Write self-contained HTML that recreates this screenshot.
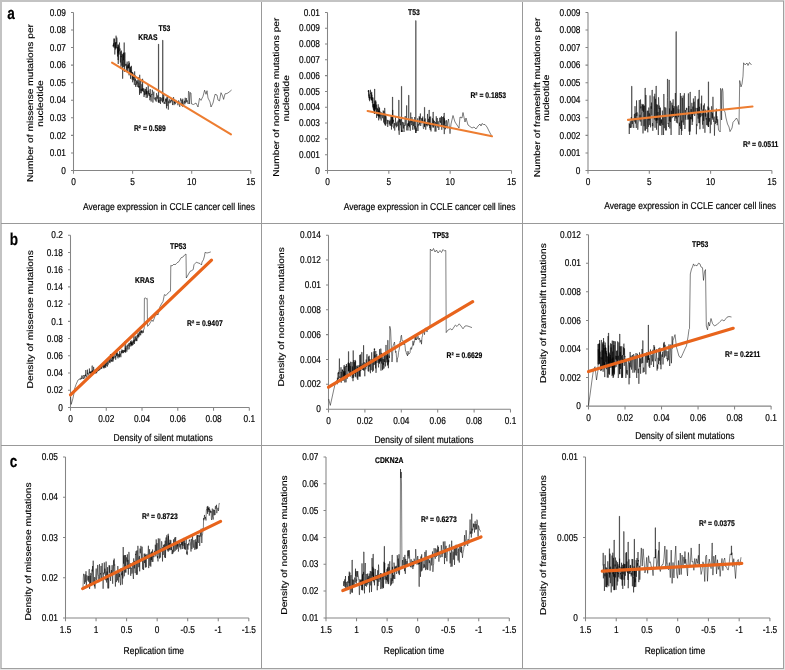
<!DOCTYPE html>
<html><head><meta charset="utf-8"><style>
html,body{margin:0;padding:0;background:#fff;width:785px;height:670px;overflow:hidden}
svg{display:block;font-family:"Liberation Sans", sans-serif;will-change:transform;text-rendering:geometricPrecision}
text{stroke:#000;stroke-width:0.18px}
</style></head><body>
<svg width="785" height="670" viewBox="0 0 785 670">

<rect x="0" y="0" width="785" height="670" fill="#fff"/>
<path d="M0,1 H784 M1,0 V669" stroke="#c3c3c3" stroke-width="2" fill="none"/>
<path d="M783.5,1 V669 M1,668.5 H784" stroke="#a0a0a0" stroke-width="1" fill="none"/>
<path d="M784.5,0 V670 M0,669.5 H785" stroke="#e6e6e6" stroke-width="1" fill="none"/>
<path d="M261.5,2 V668 M522.5,2 V668 M1,223.5 H783 M1,445.5 H783" stroke="#999" stroke-width="1" fill="none"/>

<path d="M73.50,12.40 V170.50 H250.80" fill="none" stroke="#858585" stroke-width="1.05"/>
<text transform="translate(65.90,173.65) scale(0.83,1)" font-size="10.0" text-anchor="end" fill="#000">0</text>
<text transform="translate(65.90,156.08) scale(0.83,1)" font-size="10.0" text-anchor="end" fill="#000">0.01</text>
<text transform="translate(65.90,138.52) scale(0.83,1)" font-size="10.0" text-anchor="end" fill="#000">0.02</text>
<text transform="translate(65.90,120.95) scale(0.83,1)" font-size="10.0" text-anchor="end" fill="#000">0.03</text>
<text transform="translate(65.90,103.38) scale(0.83,1)" font-size="10.0" text-anchor="end" fill="#000">0.04</text>
<text transform="translate(65.90,85.82) scale(0.83,1)" font-size="10.0" text-anchor="end" fill="#000">0.05</text>
<text transform="translate(65.90,68.25) scale(0.83,1)" font-size="10.0" text-anchor="end" fill="#000">0.06</text>
<text transform="translate(65.90,50.68) scale(0.83,1)" font-size="10.0" text-anchor="end" fill="#000">0.07</text>
<text transform="translate(65.90,33.12) scale(0.83,1)" font-size="10.0" text-anchor="end" fill="#000">0.08</text>
<text transform="translate(65.90,15.55) scale(0.83,1)" font-size="10.0" text-anchor="end" fill="#000">0.09</text>
<text transform="translate(73.50,185.20) scale(0.83,1)" font-size="10.0" text-anchor="middle" fill="#000">0</text>
<text transform="translate(132.60,185.20) scale(0.83,1)" font-size="10.0" text-anchor="middle" fill="#000">5</text>
<text transform="translate(191.70,185.20) scale(0.83,1)" font-size="10.0" text-anchor="middle" fill="#000">10</text>
<text transform="translate(250.80,185.20) scale(0.83,1)" font-size="10.0" text-anchor="middle" fill="#000">15</text>
<path d="M71.00,170.50 H73.50 M71.00,152.93 H73.50 M71.00,135.37 H73.50 M71.00,117.80 H73.50 M71.00,100.23 H73.50 M71.00,82.67 H73.50 M71.00,65.10 H73.50 M71.00,47.53 H73.50 M71.00,29.97 H73.50 M71.00,12.40 H73.50 M73.50,170.50 V173.80 M132.60,170.50 V173.80 M191.70,170.50 V173.80 M250.80,170.50 V173.80" fill="none" stroke="#858585" stroke-width="1.05"/>
<text transform="translate(33.20,103.00) scale(0.84,1) rotate(-90)" font-size="10.2" text-anchor="middle" fill="#000">Number of missense mutations per</text>
<text transform="translate(42.70,103.50) scale(0.84,1) rotate(-90)" font-size="10.2" text-anchor="middle" fill="#000">nucleotide</text>
<text transform="translate(169.00,209.50) scale(0.85,1)" font-size="10.0" text-anchor="middle" fill="#000">Average expression in CCLE cancer cell lines</text>
<polyline points="113.00,46.62 113.18,44.83 113.36,46.31 113.54,43.34 113.72,46.39 113.90,38.50 114.08,47.80 114.26,41.14 114.44,38.73 114.62,44.34 114.80,54.51 114.99,50.17 115.17,42.40 115.35,49.53 115.53,42.43 115.71,45.48 115.89,48.02 116.07,35.67 116.25,48.40 116.43,42.30 116.61,43.34 116.79,37.52 116.97,39.04 117.15,42.17 117.33,51.10 117.51,56.51 117.69,47.06 117.87,53.34 118.00,44.66 118.00,60.00 118.30,60.00 118.30,44.66 118.23,63.99 118.41,50.70 118.60,52.37 118.78,46.50 118.96,51.91 119.14,54.59 119.32,45.45 119.50,42.52 119.68,51.13 119.86,50.40 120.04,48.46 120.22,57.49 120.40,62.50 120.58,51.41 120.76,56.26 120.94,67.88 121.12,56.10 121.30,57.09 121.48,50.60 121.66,58.72 121.84,65.69 122.02,61.17 122.20,54.15 122.39,61.52 122.50,65.35 122.50,78.60 122.80,78.60 122.80,65.35 122.75,61.31 122.93,54.42 123.11,67.02 123.29,52.74 123.47,60.21 123.65,58.68 123.83,52.77 124.01,66.66 124.19,42.52 124.37,71.94 124.55,64.15 124.73,58.32 124.91,52.46 125.09,58.47 125.27,63.92 125.45,65.32 125.63,64.51 125.81,64.47 126.00,66.16 126.18,63.71 126.36,71.19 126.54,67.75 126.72,66.23 126.90,68.39 127.08,61.59 127.26,63.02 127.44,72.19 127.62,68.56 127.80,64.75 127.98,68.56 128.16,66.38 128.34,68.13 128.52,64.40 128.70,67.90 128.88,61.16 129.06,75.33 129.24,69.24 129.42,62.74 129.60,68.31 129.79,68.83 129.97,72.50 130.15,67.28 130.33,72.78 130.51,78.81 130.69,66.66 130.87,73.28 131.05,70.40 131.23,73.30 131.41,65.84 131.59,68.65 131.77,75.20 131.95,72.55 132.13,79.57 132.31,71.97 132.49,75.47 132.67,82.28 132.85,72.73 133.03,72.76 133.21,77.86 133.40,77.37 133.58,80.26 133.76,76.50 133.94,74.76 134.12,80.60 134.30,84.88 134.48,82.94 134.66,71.39 134.84,77.80 135.02,75.26 135.20,81.14 135.38,78.74 135.56,86.79 135.74,84.08 135.92,84.70 136.10,81.61 136.28,81.17 136.46,81.11 136.64,84.40 136.82,83.18 137.00,79.95 137.19,86.96 137.37,83.64 137.55,83.74 137.73,81.50 137.91,82.82 138.09,82.15 138.27,77.23 138.45,87.32 138.63,85.82 138.81,82.72 138.99,87.62 139.17,86.09 139.35,86.59 139.53,94.87 139.71,74.78 139.89,87.21 140.07,91.83 140.25,93.25 140.43,92.70 140.61,83.05 140.80,80.93 140.98,90.64 141.16,89.03 141.34,93.28 141.52,90.37 141.70,90.13 141.88,84.23 142.06,91.12 142.24,88.29 142.42,91.23 142.60,78.77 142.78,89.64 142.96,90.08 143.14,89.32 143.32,91.84 143.50,91.58 143.68,88.08 143.86,88.79 144.04,97.04 144.22,91.30 144.40,95.14 144.59,93.17 144.77,89.72 144.95,89.23 145.13,92.04 145.31,93.10 145.49,94.48 145.67,88.87 145.85,90.25 146.03,92.90 146.21,97.95 146.39,87.10 146.57,94.11 146.75,90.78 146.93,94.55 147.11,91.25 147.29,93.67 147.47,97.63 147.65,94.99 147.83,95.29 148.01,94.31 148.20,84.51 148.38,94.43 148.56,93.68 148.74,90.43 148.92,93.82 149.10,93.66 149.28,96.02 149.46,93.85 149.64,93.03 149.82,100.22 150.00,98.57 150.20,89.05 150.50,97.14 150.80,95.32 151.10,101.57 151.41,95.00 151.71,93.93 152.01,95.11 152.31,89.76 152.61,92.35 152.91,102.55 153.22,96.38 153.52,95.22 153.82,91.64 154.12,98.83 154.42,98.90 154.72,99.33 155.03,97.68 155.33,100.46 155.63,100.35 155.93,97.12 156.23,101.69 156.53,93.23 156.84,94.84 157.14,98.17 157.44,98.66 157.74,95.39 158.04,100.28 158.40,102.44 158.40,44.10 158.70,44.10 158.70,102.44 158.65,101.54 158.95,100.09 159.25,102.90 159.55,101.49 159.85,97.09 160.15,99.32 160.46,103.93 160.76,97.18 161.06,100.93 161.36,99.44 161.66,98.23 161.96,99.03 162.27,102.06 162.60,102.04 162.60,40.20 162.90,40.20 162.90,102.04 162.87,102.50 163.17,97.19 163.47,100.70 163.77,93.43 164.08,103.87 164.38,101.92 164.68,102.57 164.98,103.96 165.28,103.01 165.58,98.66 165.89,101.68 166.19,98.85 166.49,108.36 166.79,97.28 167.09,106.00 167.39,99.02 167.70,95.63 168.00,101.27 168.30,109.67 168.60,101.42 168.90,102.79 169.20,99.74 169.50,99.33 169.81,103.34 170.11,102.56 170.41,100.39 170.71,102.49 171.01,102.33 171.31,99.10 171.62,100.97 171.92,101.30 172.22,99.41 172.52,105.07 172.82,101.44 173.12,100.47 173.43,97.08 173.73,97.77 174.03,105.14 174.33,99.22 174.63,103.32 174.93,101.66 175.24,103.85 175.54,104.20 175.84,99.81 176.14,100.73 176.44,102.12 176.74,102.50 177.05,101.30 177.35,101.42 177.65,103.53 177.95,105.26 178.25,103.47 178.55,100.44 178.86,102.55 179.16,102.40 179.46,103.47 179.76,106.87 180.06,101.04 180.36,100.53 180.67,98.31 180.97,100.58 181.27,99.68 181.57,105.72 181.87,102.36 182.17,100.23 182.48,106.65 182.78,98.74 183.08,104.23 183.38,104.89 183.68,104.68 183.98,101.89 184.29,102.26 184.59,100.72 184.89,104.32 185.19,97.74 185.49,101.74 185.79,102.91 186.10,100.47 186.40,98.09 186.70,101.97 187.00,100.20 188.20,104.00 188.50,91.20 189.20,92.00 189.60,104.00 190.30,92.50 191.00,93.00 191.60,104.00 193.60,104.50 196.00,103.00 198.00,107.00 199.50,98.30 201.00,100.40 203.00,96.30 204.60,90.20 206.00,94.30 207.00,90.70 208.00,98.00 210.00,101.90 211.00,107.00 213.00,103.00 215.00,94.30 217.00,95.00 218.00,100.00 219.50,100.90 221.00,92.70 222.60,96.00 223.60,99.40 225.00,93.80 227.00,93.50 229.00,92.20 231.60,90.00" fill="none" stroke="#000" stroke-width="0.5" stroke-linejoin="miter" stroke-opacity="1"/>
<line x1="112" y1="62.7" x2="231" y2="134.3" stroke="#ED7D31" stroke-width="2.1" stroke-linecap="round"/>
<text transform="translate(138.30,40.00) scale(0.83,1)" font-size="8.2" text-anchor="start" font-weight="bold" fill="#000">KRAS</text>
<text transform="translate(158.50,30.60) scale(0.83,1)" font-size="8.2" text-anchor="start" font-weight="bold" fill="#000">T53</text>
<text transform="translate(133.90,131.40) scale(0.83,1)" font-size="8.2" text-anchor="start" font-weight="bold" fill="#000">R² = 0.589</text>
<path d="M327.50,12.40 V170.50 H511.50" fill="none" stroke="#858585" stroke-width="1.05"/>
<text transform="translate(319.90,173.65) scale(0.83,1)" font-size="10.0" text-anchor="end" fill="#000">0</text>
<text transform="translate(319.90,157.84) scale(0.83,1)" font-size="10.0" text-anchor="end" fill="#000">0.001</text>
<text transform="translate(319.90,142.03) scale(0.83,1)" font-size="10.0" text-anchor="end" fill="#000">0.002</text>
<text transform="translate(319.90,126.22) scale(0.83,1)" font-size="10.0" text-anchor="end" fill="#000">0.003</text>
<text transform="translate(319.90,110.41) scale(0.83,1)" font-size="10.0" text-anchor="end" fill="#000">0.004</text>
<text transform="translate(319.90,94.60) scale(0.83,1)" font-size="10.0" text-anchor="end" fill="#000">0.005</text>
<text transform="translate(319.90,78.79) scale(0.83,1)" font-size="10.0" text-anchor="end" fill="#000">0.006</text>
<text transform="translate(319.90,62.98) scale(0.83,1)" font-size="10.0" text-anchor="end" fill="#000">0.007</text>
<text transform="translate(319.90,47.17) scale(0.83,1)" font-size="10.0" text-anchor="end" fill="#000">0.008</text>
<text transform="translate(319.90,31.36) scale(0.83,1)" font-size="10.0" text-anchor="end" fill="#000">0.009</text>
<text transform="translate(319.90,15.55) scale(0.83,1)" font-size="10.0" text-anchor="end" fill="#000">0.01</text>
<text transform="translate(327.50,185.20) scale(0.83,1)" font-size="10.0" text-anchor="middle" fill="#000">0</text>
<text transform="translate(388.83,185.20) scale(0.83,1)" font-size="10.0" text-anchor="middle" fill="#000">5</text>
<text transform="translate(450.17,185.20) scale(0.83,1)" font-size="10.0" text-anchor="middle" fill="#000">10</text>
<text transform="translate(511.50,185.20) scale(0.83,1)" font-size="10.0" text-anchor="middle" fill="#000">15</text>
<path d="M325.00,170.50 H327.50 M325.00,154.69 H327.50 M325.00,138.88 H327.50 M325.00,123.07 H327.50 M325.00,107.26 H327.50 M325.00,91.45 H327.50 M325.00,75.64 H327.50 M325.00,59.83 H327.50 M325.00,44.02 H327.50 M325.00,28.21 H327.50 M325.00,12.40 H327.50 M327.50,170.50 V173.80 M388.83,170.50 V173.80 M450.17,170.50 V173.80 M511.50,170.50 V173.80" fill="none" stroke="#858585" stroke-width="1.05"/>
<text transform="translate(279.20,97.20) scale(0.84,1) rotate(-90)" font-size="10.2" text-anchor="middle" fill="#000">Number of nonsense mutations per</text>
<text transform="translate(288.50,98.30) scale(0.84,1) rotate(-90)" font-size="10.2" text-anchor="middle" fill="#000">nucleotide</text>
<text transform="translate(429.60,209.50) scale(0.85,1)" font-size="10.0" text-anchor="middle" fill="#000">Average expression in CCLE cancer cell lines</text>
<polyline points="368.20,90.68 368.32,91.98 368.44,90.12 368.56,92.02 368.68,96.51 368.80,90.13 368.92,96.19 369.04,97.96 369.16,96.67 369.28,99.73 369.40,94.37 369.52,98.18 369.64,101.21 369.77,97.29 369.89,97.33 370.01,97.03 370.13,98.49 370.25,92.67 370.37,93.82 370.49,89.78 370.61,91.74 370.73,91.34 370.85,92.02 370.97,95.22 371.09,99.79 371.21,95.23 371.33,93.35 371.45,100.07 371.57,99.14 371.69,92.00 371.81,100.55 371.93,94.82 372.05,97.85 372.17,98.43 372.29,103.16 372.41,97.34 372.53,99.48 372.66,101.13 372.78,105.10 372.90,106.88 373.02,97.57 373.14,108.33 373.26,103.88 373.38,109.55 373.50,110.27 373.62,104.20 373.74,107.24 373.86,106.79 373.98,111.03 374.10,113.20 374.22,108.99 374.34,105.31 374.50,113.92 374.50,89.00 374.80,89.00 374.80,113.92 374.58,103.86 374.70,106.66 374.82,106.47 374.94,101.17 375.06,109.35 375.18,110.12 375.30,106.95 375.42,107.03 375.54,106.15 375.67,100.33 375.79,108.98 375.91,101.63 376.03,103.16 376.15,109.82 376.27,112.41 376.39,104.63 376.51,115.99 376.63,117.94 376.75,112.93 376.87,111.96 376.99,113.58 377.11,110.75 377.23,107.92 377.35,115.26 377.47,115.71 377.59,108.82 377.71,110.15 377.83,109.64 377.95,109.51 378.07,107.66 378.19,104.29 378.31,116.42 378.43,110.68 378.56,111.05 378.68,120.36 378.80,109.59 378.92,115.58 379.04,106.84 379.16,111.34 379.28,117.48 379.40,113.28 379.52,108.04 379.64,108.56 379.76,115.64 379.88,111.08 380.00,118.68 380.20,116.94 380.45,114.48 380.70,112.37 380.95,117.55 381.20,120.51 381.45,112.57 381.70,114.31 381.95,115.98 382.20,115.95 382.45,118.24 382.70,112.99 382.95,115.23 383.20,110.50 383.45,116.70 383.70,122.54 383.95,111.13 384.20,117.15 384.45,124.19 384.70,107.92 384.95,111.96 385.20,125.35 385.45,113.86 385.70,125.56 385.95,116.92 386.20,116.33 386.45,120.23 386.70,120.02 386.96,123.76 387.21,122.61 387.46,119.86 387.71,126.96 387.96,123.52 388.21,120.86 388.46,121.13 388.71,120.41 388.96,120.38 389.21,124.28 389.46,122.94 389.71,121.11 389.96,125.66 390.21,119.65 390.46,123.87 390.71,125.70 390.96,116.49 391.21,119.97 391.46,129.54 391.71,115.86 391.96,126.68 392.21,116.11 392.40,123.51 392.40,97.00 392.70,97.00 392.70,123.51 392.71,109.93 392.96,119.61 393.21,121.65 393.46,119.76 393.71,128.29 393.96,126.20 394.21,126.18 394.46,123.06 394.71,130.59 394.96,127.15 395.21,123.52 395.46,117.08 395.71,125.55 395.96,125.30 396.21,123.26 396.46,127.11 396.71,127.29 396.96,121.84 397.21,126.20 397.46,124.80 397.71,124.39 397.96,120.52 398.21,120.64 398.46,123.70 398.70,130.53 398.70,100.10 399.00,100.10 399.00,130.53 398.96,131.79 399.21,134.79 399.46,119.08 399.71,122.31 399.96,119.27 400.21,121.58 400.47,125.25 400.72,119.37 400.97,127.78 401.22,128.89 401.40,132.00 401.40,86.30 401.70,86.30 401.70,132.00 401.72,132.00 401.97,130.21 402.22,132.00 402.47,121.90 402.72,124.60 402.97,124.87 403.22,125.96 403.47,128.43 403.72,122.39 403.97,132.00 404.22,129.64 404.47,125.18 404.72,125.78 404.97,119.46 405.22,116.04 405.47,122.70 405.72,124.92 405.97,125.61 406.22,118.38 406.50,119.90 406.50,105.50 406.80,105.50 406.80,119.90 406.72,130.40 406.97,126.31 407.22,126.71 407.47,123.50 407.72,128.57 407.97,130.49 408.22,128.51 408.47,122.86 408.60,125.91 408.60,95.20 408.90,95.20 408.90,125.91 408.97,120.43 409.22,123.88 409.47,127.31 409.72,121.48 409.97,123.05 410.22,130.81 410.47,123.03 410.72,112.56 410.97,122.61 411.22,119.70 411.47,125.15 411.72,123.66 411.97,117.00 412.22,118.75 412.47,121.44 412.72,129.77 412.97,120.28 413.22,122.54 413.47,125.94 413.72,124.02 413.98,121.43 414.23,129.55 414.48,128.00 414.73,117.00 414.98,127.48 415.23,126.06 415.48,128.42 415.70,132.96 415.70,20.60 416.00,20.60 416.00,132.96 415.98,127.78 416.23,131.00 416.48,131.00 416.73,131.00 416.98,127.76 417.23,126.82 417.48,126.92 417.73,118.32 417.98,131.00 418.23,124.28 418.48,124.71 418.73,124.54 418.98,125.70 419.23,116.15 419.48,124.52 419.73,117.32 419.98,119.21 420.20,116.05 420.20,113.60 420.50,113.60 420.50,116.05 420.48,116.10 420.73,126.02 420.98,120.82 421.23,123.20 421.48,123.18 421.73,118.31 421.98,120.58 422.23,117.97 422.48,122.09 422.73,116.55 422.98,121.53 423.23,127.37 423.48,128.83 423.73,128.68 423.98,126.42 424.23,119.86 424.40,126.76 424.40,107.30 424.70,107.30 424.70,126.76 424.73,125.05 424.98,124.29 425.23,118.46 425.48,125.23 425.73,129.69 425.98,126.77 426.23,122.71 426.48,125.27 426.73,123.72 426.98,124.21 427.23,126.33 427.49,113.93 427.74,122.84 427.99,125.16 428.24,120.59 428.49,118.83 428.74,124.94 429.00,120.80 429.00,110.00 429.30,110.00 429.30,120.80 429.24,125.87 429.49,116.70 429.74,128.16 429.99,123.07 430.24,129.99 430.49,116.63 430.74,116.62 430.99,131.45 431.24,123.57 431.49,124.84 431.74,123.46 431.99,123.79 432.24,125.45 432.49,118.27 432.74,120.92 433.00,127.47 433.00,112.00 433.30,112.00 433.30,127.47 433.24,123.23 433.49,119.79 433.74,121.60 433.99,126.16 434.24,121.06 434.49,121.06 434.74,124.11 434.99,131.54 435.24,128.72 435.49,122.16 435.74,124.01 435.99,131.60 436.24,116.25 436.49,122.79 436.74,124.35 436.99,122.01 437.24,118.03 437.49,124.24 437.74,127.69 437.99,121.89 438.24,121.22 438.49,123.23 438.74,130.00 438.99,129.14 439.24,124.86 439.49,119.30 439.74,117.79 439.99,121.58 440.24,120.90 440.49,122.92 440.74,117.48 441.00,121.79 441.25,124.93 441.50,116.20 441.75,129.77 442.00,125.10 442.25,124.87 442.50,117.11 442.75,118.03 443.00,126.82 443.25,126.33 443.50,116.47 443.75,128.20 444.00,126.85 444.00,113.00 444.30,113.00 444.30,126.85 444.25,134.11 444.50,118.32 444.75,123.73 445.00,120.53 445.25,125.63 445.50,129.27 445.75,125.22 446.00,126.89 446.25,122.44 446.50,120.27 446.75,123.42 447.00,127.10 447.25,128.29 447.50,123.09 448.50,119.00 450.00,133.70 451.00,124.00 453.00,115.50 455.00,122.00 457.00,125.00 459.00,128.00 460.00,117.00 462.00,118.00 463.00,112.50 465.00,122.00 466.00,118.00 468.00,125.00 470.00,126.50 472.00,128.00 474.00,127.00 476.00,129.00 478.00,126.00 480.00,124.00 481.00,126.00 482.00,123.50 483.50,124.50 485.00,124.50 487.00,127.00 490.00,133.00 491.50,135.50" fill="none" stroke="#000" stroke-width="0.5" stroke-linejoin="miter" stroke-opacity="1"/>
<line x1="367.6" y1="111" x2="492" y2="136.3" stroke="#ED7D31" stroke-width="2.1" stroke-linecap="round"/>
<text transform="translate(408.00,15.00) scale(0.83,1)" font-size="8.2" text-anchor="start" font-weight="bold" fill="#000">T53</text>
<text transform="translate(470.40,98.00) scale(0.83,1)" font-size="8.2" text-anchor="start" font-weight="bold" fill="#000">R² = 0.1853</text>
<path d="M588.00,12.40 V170.50 H771.90" fill="none" stroke="#858585" stroke-width="1.05"/>
<text transform="translate(580.40,173.65) scale(0.83,1)" font-size="10.0" text-anchor="end" fill="#000">0</text>
<text transform="translate(580.40,156.08) scale(0.83,1)" font-size="10.0" text-anchor="end" fill="#000">0.001</text>
<text transform="translate(580.40,138.52) scale(0.83,1)" font-size="10.0" text-anchor="end" fill="#000">0.002</text>
<text transform="translate(580.40,120.95) scale(0.83,1)" font-size="10.0" text-anchor="end" fill="#000">0.003</text>
<text transform="translate(580.40,103.38) scale(0.83,1)" font-size="10.0" text-anchor="end" fill="#000">0.004</text>
<text transform="translate(580.40,85.82) scale(0.83,1)" font-size="10.0" text-anchor="end" fill="#000">0.005</text>
<text transform="translate(580.40,68.25) scale(0.83,1)" font-size="10.0" text-anchor="end" fill="#000">0.006</text>
<text transform="translate(580.40,50.68) scale(0.83,1)" font-size="10.0" text-anchor="end" fill="#000">0.007</text>
<text transform="translate(580.40,33.12) scale(0.83,1)" font-size="10.0" text-anchor="end" fill="#000">0.008</text>
<text transform="translate(580.40,15.55) scale(0.83,1)" font-size="10.0" text-anchor="end" fill="#000">0.009</text>
<text transform="translate(588.00,185.20) scale(0.83,1)" font-size="10.0" text-anchor="middle" fill="#000">0</text>
<text transform="translate(649.30,185.20) scale(0.83,1)" font-size="10.0" text-anchor="middle" fill="#000">5</text>
<text transform="translate(710.60,185.20) scale(0.83,1)" font-size="10.0" text-anchor="middle" fill="#000">10</text>
<text transform="translate(771.90,185.20) scale(0.83,1)" font-size="10.0" text-anchor="middle" fill="#000">15</text>
<path d="M585.50,170.50 H588.00 M585.50,152.93 H588.00 M585.50,135.37 H588.00 M585.50,117.80 H588.00 M585.50,100.23 H588.00 M585.50,82.67 H588.00 M585.50,65.10 H588.00 M585.50,47.53 H588.00 M585.50,29.97 H588.00 M585.50,12.40 H588.00 M588.00,170.50 V173.80 M649.30,170.50 V173.80 M710.60,170.50 V173.80 M771.90,170.50 V173.80" fill="none" stroke="#858585" stroke-width="1.05"/>
<text transform="translate(540.10,97.50) scale(0.84,1) rotate(-90)" font-size="10.2" text-anchor="middle" fill="#000">Number of frameshift mutations per</text>
<text transform="translate(549.20,97.90) scale(0.84,1) rotate(-90)" font-size="10.2" text-anchor="middle" fill="#000">nucleotide</text>
<text transform="translate(690.20,209.40) scale(0.85,1)" font-size="10.0" text-anchor="middle" fill="#000">Average expression in CCLE cancer cell lines</text>
<polyline points="629.00,123.17 629.25,134.02 629.50,123.72 629.75,126.22 630.00,127.85 630.25,121.28 630.50,127.88 630.75,125.54 631.00,123.94 631.26,117.06 631.60,119.68 631.60,86.20 631.90,86.20 631.90,119.68 631.76,127.66 632.01,120.91 632.26,123.93 632.51,123.82 632.76,120.83 633.01,119.90 633.26,123.10 633.51,124.65 633.76,127.99 634.01,121.77 634.26,114.60 634.51,113.90 634.76,121.72 635.01,106.20 635.26,112.49 635.51,123.49 635.77,113.76 636.02,112.83 636.27,127.97 636.52,100.43 636.77,116.06 637.02,112.35 637.27,112.69 637.52,125.19 637.77,129.73 638.02,127.33 638.27,122.98 638.52,121.79 638.77,113.49 639.02,113.23 639.27,100.06 639.52,111.00 639.77,120.34 640.02,114.76 640.28,121.64 640.53,99.50 640.78,108.37 641.03,106.44 641.28,125.73 641.53,112.84 641.78,112.97 642.03,103.87 642.28,110.64 642.53,104.87 642.78,109.40 643.03,133.45 643.28,104.19 643.53,111.75 643.78,105.56 644.03,126.21 644.28,105.67 644.54,107.02 644.79,117.81 645.00,130.58 645.00,88.00 645.30,88.00 645.30,130.58 645.29,116.55 645.54,110.62 645.79,95.13 646.04,95.09 646.29,117.26 646.54,119.71 646.79,129.06 647.04,119.55 647.29,110.76 647.54,125.37 647.79,132.30 648.04,110.71 648.29,125.49 648.54,126.81 648.79,107.55 649.05,120.38 649.30,113.36 649.55,124.70 649.80,125.16 650.05,95.44 650.30,113.53 650.55,127.39 650.80,120.26 651.05,106.28 651.30,108.77 651.55,102.54 651.80,115.46 652.00,102.11 652.00,90.00 652.30,90.00 652.30,102.11 652.30,126.16 652.55,123.01 652.80,130.83 653.05,125.85 653.30,126.12 653.56,123.66 653.81,118.20 654.06,96.40 654.31,119.48 654.56,107.16 654.81,93.78 655.06,127.80 655.31,111.58 655.56,98.83 655.81,118.64 656.00,120.62 656.00,86.00 656.30,86.00 656.30,120.62 656.31,117.86 656.56,129.70 656.81,104.23 657.06,123.24 657.31,104.85 657.56,117.99 657.81,120.32 658.07,111.96 658.32,135.00 658.57,97.25 658.82,101.20 659.07,108.85 659.32,105.59 659.57,125.18 659.82,108.10 660.07,126.01 660.32,107.53 660.57,122.80 660.82,125.59 661.07,119.73 661.32,123.35 661.57,119.36 661.82,135.00 662.07,135.00 662.33,110.59 662.58,119.48 662.83,125.09 663.08,117.23 663.33,129.96 663.58,135.00 663.83,93.98 664.08,107.85 664.33,128.21 664.58,120.22 664.83,107.06 665.08,111.70 665.33,118.33 665.58,130.34 665.83,107.74 666.08,119.87 666.33,130.43 666.58,125.12 666.84,115.42 667.09,113.44 667.40,97.57 667.40,79.00 667.70,79.00 667.70,97.57 667.59,100.64 667.84,107.73 668.09,123.92 668.34,123.15 668.59,126.97 668.84,123.37 669.00,121.30 669.00,80.00 669.30,80.00 669.30,121.30 669.34,116.45 669.59,108.41 669.84,128.51 670.09,113.82 670.34,100.81 670.59,121.98 670.84,116.36 671.09,135.00 671.35,110.71 671.60,116.06 671.85,102.65 672.10,118.20 672.35,117.19 672.60,105.30 672.85,113.83 673.10,99.31 673.35,117.09 673.60,108.14 673.85,116.41 674.10,106.09 674.35,106.91 674.60,112.90 674.85,120.97 675.10,115.34 675.35,93.00 675.61,117.24 675.86,112.81 676.00,118.62 676.00,31.60 676.30,31.60 676.30,118.62 676.36,122.71 676.61,119.37 676.86,106.36 677.11,108.10 677.36,116.84 677.61,123.32 677.86,108.95 678.11,108.94 678.36,105.21 678.61,117.17 678.86,109.34 679.11,135.00 679.36,122.66 679.61,126.00 679.86,118.99 680.12,107.79 680.37,93.02 680.62,128.87 680.87,117.32 681.12,95.88 681.37,135.00 681.62,120.58 681.87,130.92 682.12,114.69 682.37,97.85 682.62,108.01 682.87,122.44 683.12,95.52 683.37,110.08 683.62,124.58 683.87,124.94 684.12,114.94 684.37,93.22 684.63,113.14 684.88,129.03 685.13,124.90 685.38,109.94 685.63,118.49 685.88,119.72 686.13,111.91 686.38,107.81 686.63,109.84 686.88,108.29 687.13,114.77 687.38,115.02 687.63,118.16 687.88,119.65 688.13,113.01 688.38,93.42 688.63,119.30 688.89,106.05 689.14,131.48 689.39,111.71 689.64,135.00 690.00,122.23 690.00,92.00 690.30,92.00 690.30,122.23 690.14,131.49 690.39,116.92 690.64,119.07 690.89,109.49 691.14,110.23 691.39,109.41 691.64,119.31 691.89,102.81 692.14,125.00 692.39,112.17 692.64,121.67 692.89,106.59 693.14,114.55 693.40,98.50 693.65,108.33 693.90,113.46 694.15,101.71 694.40,111.46 694.65,116.02 694.90,114.76 695.15,96.06 695.40,111.88 695.65,112.84 695.90,107.83 696.15,108.01 696.40,134.27 696.65,124.29 696.90,125.54 697.15,125.75 697.40,107.90 697.65,114.42 697.91,99.51 698.16,118.63 698.41,98.72 698.66,108.29 699.00,123.14 699.00,90.00 699.30,90.00 699.30,123.14 699.16,120.65 699.41,106.82 699.66,108.28 699.91,129.26 700.16,122.68 700.41,112.44 700.66,117.15 700.91,115.41 701.16,103.51 701.41,109.53 701.66,95.65 701.91,115.74 702.16,113.75 702.42,122.34 702.67,124.72 702.92,109.47 703.17,128.73 703.42,105.39 703.67,120.94 703.92,110.09 704.17,107.20 704.42,103.47 704.67,111.30 704.92,132.77 705.17,113.02 705.42,116.57 705.67,109.51 705.92,118.36 706.17,119.54 706.42,118.17 706.68,125.10 706.93,113.47 707.18,116.18 707.43,125.49 707.68,117.13 707.93,106.46 708.30,126.95 708.30,81.80 708.60,81.80 708.60,126.95 708.43,120.46 708.68,109.83 708.93,107.67 709.18,110.15 709.43,121.62 709.68,118.07 709.93,124.39 710.18,133.25 710.43,131.11 710.68,117.94 710.93,110.80 711.19,124.66 711.44,106.39 711.69,106.35 711.94,113.29 712.19,118.02 712.44,113.20 712.69,119.61 712.94,96.82 713.19,112.79 713.44,117.65 713.69,121.88 713.94,120.75 714.19,116.65 714.44,135.68 714.69,126.16 714.94,122.85 715.19,120.61 715.44,123.81 715.70,113.97 715.95,111.03 716.20,120.10 716.45,108.61 716.70,122.95 716.95,116.26 717.20,125.23 717.45,122.87 717.70,119.28 718.50,130.00 720.20,132.00 720.60,88.30 721.20,91.00 721.60,120.00 722.00,90.00 722.50,88.50 723.00,92.00 723.40,109.60 725.00,112.00 726.00,118.00 727.50,124.00 729.00,127.00 730.00,131.60 732.00,128.00 733.00,122.30 735.00,120.00 736.50,118.00 738.00,121.00 739.00,124.50 739.70,80.50 741.00,86.90 742.00,84.00 743.00,76.20 743.60,62.80 745.00,64.90 747.00,63.00 748.00,65.50 749.50,62.50 751.50,65.00" fill="none" stroke="#000" stroke-width="0.5" stroke-linejoin="miter" stroke-opacity="1"/>
<line x1="628" y1="119.9" x2="752.5" y2="106.5" stroke="#ED7D31" stroke-width="2.1" stroke-linecap="round"/>
<text transform="translate(743.00,146.80) scale(0.83,1)" font-size="8.2" text-anchor="start" font-weight="bold" fill="#000">R² = 0.0511</text>
<path d="M70.50,235.20 V407.50 H249.30" fill="none" stroke="#858585" stroke-width="1.05"/>
<text transform="translate(62.90,410.65) scale(0.83,1)" font-size="10.0" text-anchor="end" fill="#000">0</text>
<text transform="translate(62.90,393.42) scale(0.83,1)" font-size="10.0" text-anchor="end" fill="#000">0.02</text>
<text transform="translate(62.90,376.19) scale(0.83,1)" font-size="10.0" text-anchor="end" fill="#000">0.04</text>
<text transform="translate(62.90,358.96) scale(0.83,1)" font-size="10.0" text-anchor="end" fill="#000">0.06</text>
<text transform="translate(62.90,341.73) scale(0.83,1)" font-size="10.0" text-anchor="end" fill="#000">0.08</text>
<text transform="translate(62.90,324.50) scale(0.83,1)" font-size="10.0" text-anchor="end" fill="#000">0.1</text>
<text transform="translate(62.90,307.27) scale(0.83,1)" font-size="10.0" text-anchor="end" fill="#000">0.12</text>
<text transform="translate(62.90,290.04) scale(0.83,1)" font-size="10.0" text-anchor="end" fill="#000">0.14</text>
<text transform="translate(62.90,272.81) scale(0.83,1)" font-size="10.0" text-anchor="end" fill="#000">0.16</text>
<text transform="translate(62.90,255.58) scale(0.83,1)" font-size="10.0" text-anchor="end" fill="#000">0.18</text>
<text transform="translate(62.90,238.35) scale(0.83,1)" font-size="10.0" text-anchor="end" fill="#000">0.2</text>
<text transform="translate(70.50,422.20) scale(0.83,1)" font-size="10.0" text-anchor="middle" fill="#000">0</text>
<text transform="translate(106.26,422.20) scale(0.83,1)" font-size="10.0" text-anchor="middle" fill="#000">0.02</text>
<text transform="translate(142.02,422.20) scale(0.83,1)" font-size="10.0" text-anchor="middle" fill="#000">0.04</text>
<text transform="translate(177.78,422.20) scale(0.83,1)" font-size="10.0" text-anchor="middle" fill="#000">0.06</text>
<text transform="translate(213.54,422.20) scale(0.83,1)" font-size="10.0" text-anchor="middle" fill="#000">0.08</text>
<text transform="translate(249.30,422.20) scale(0.83,1)" font-size="10.0" text-anchor="middle" fill="#000">0.1</text>
<path d="M68.00,407.50 H70.50 M68.00,390.27 H70.50 M68.00,373.04 H70.50 M68.00,355.81 H70.50 M68.00,338.58 H70.50 M68.00,321.35 H70.50 M68.00,304.12 H70.50 M68.00,286.89 H70.50 M68.00,269.66 H70.50 M68.00,252.43 H70.50 M68.00,235.20 H70.50 M70.50,407.50 V410.80 M106.26,407.50 V410.80 M142.02,407.50 V410.80 M177.78,407.50 V410.80 M213.54,407.50 V410.80 M249.30,407.50 V410.80" fill="none" stroke="#858585" stroke-width="1.05"/>
<text transform="translate(33.10,319.30) scale(0.84,1) rotate(-90)" font-size="10.2" text-anchor="middle" fill="#000">Density of missense mutations</text>
<text transform="translate(163.20,440.60) scale(0.85,1)" font-size="10.0" text-anchor="middle" fill="#000">Density of silent mutations</text>
<polyline points="70.60,397.00 71.20,404.40 72.20,401.00 72.80,398.90 73.80,394.20 74.50,389.00 76.00,384.60 78.00,380.00 80.00,378.80 80.00,379.30 80.20,378.85 80.40,378.71 80.60,379.47 80.80,379.30 81.00,377.66 81.20,377.69 81.40,379.07 81.60,377.18 81.80,375.65 82.00,376.36 82.20,375.72 82.40,377.13 82.60,377.14 82.80,378.71 83.00,377.54 83.21,377.78 83.41,378.83 83.61,377.64 83.81,375.13 84.01,376.18 84.21,375.32 84.41,375.83 84.61,377.76 84.81,378.48 85.01,377.13 85.21,376.09 85.41,374.50 85.61,376.08 85.81,370.04 86.01,374.22 86.21,375.97 86.41,376.40 86.61,376.45 86.81,377.44 87.01,375.17 87.21,375.28 87.41,369.62 87.61,373.82 87.81,372.83 88.01,374.29 88.21,374.91 88.41,375.17 88.61,375.41 88.81,373.19 89.01,372.33 89.21,372.23 89.41,368.49 89.62,373.02 89.82,371.83 90.02,374.11 90.22,371.52 90.42,372.88 90.62,372.06 90.82,373.35 91.02,373.33 91.22,370.88 91.42,372.96 91.62,375.30 91.82,372.85 92.00,370.49 92.00,365.70 92.30,365.70 92.30,370.49 92.22,375.04 92.42,370.59 92.62,373.01 92.82,370.34 93.02,373.12 93.22,371.86 93.42,372.91 93.62,366.89 93.82,369.61 94.02,369.29 94.22,370.30 94.42,372.86 94.62,371.94 94.82,373.37 95.02,373.46 95.22,373.81 95.42,369.94 95.62,369.36 95.82,369.27 96.03,372.86 96.23,370.05 96.43,371.01 96.63,373.27 96.83,369.66 97.03,368.97 97.23,368.36 97.43,371.41 97.63,371.60 97.83,369.87 98.03,368.97 98.23,369.05 98.43,369.97 98.63,371.01 98.83,367.56 99.03,367.65 99.23,370.31 99.43,370.09 99.63,368.52 99.83,368.00 100.03,369.74 100.23,368.05 100.43,365.65 100.63,365.74 100.83,368.66 101.03,367.05 101.23,367.96 101.43,364.85 101.63,368.93 101.83,367.32 102.03,366.37 102.24,366.90 102.44,366.02 102.64,366.20 102.84,363.73 103.00,364.40 103.00,364.00 103.30,364.00 103.30,364.40 103.24,368.11 103.44,365.82 103.64,364.63 103.84,366.81 104.04,368.39 104.24,365.71 104.44,367.04 104.64,363.98 104.84,362.13 105.04,367.96 105.24,363.39 105.44,365.98 105.64,366.46 105.84,367.38 106.04,363.09 106.24,365.88 106.44,362.16 106.64,360.83 106.84,360.53 107.04,363.63 107.24,360.41 107.44,366.55 107.64,364.89 107.84,364.75 108.04,363.36 108.24,364.42 108.44,361.40 108.65,360.08 108.85,360.33 109.05,362.63 109.25,361.71 109.45,362.20 109.65,358.58 109.85,362.39 110.05,363.16 110.25,361.39 110.45,354.04 110.65,359.29 110.85,360.15 111.05,361.89 111.25,360.05 111.45,361.18 111.65,357.92 111.85,358.11 112.00,357.85 112.00,356.00 112.30,356.00 112.30,357.85 112.25,361.67 112.45,355.80 112.65,358.11 112.85,355.43 113.05,361.52 113.25,359.81 113.45,356.44 113.65,359.22 113.85,358.89 114.05,356.77 114.25,357.56 114.45,356.27 114.65,355.98 114.85,353.63 115.06,354.29 115.26,357.41 115.46,356.12 115.66,359.74 115.86,358.07 116.06,356.46 116.26,352.87 116.46,354.33 116.66,355.66 116.86,351.27 117.06,356.31 117.26,352.71 117.46,357.10 117.66,357.49 117.86,357.99 118.06,358.39 118.26,353.92 118.46,355.62 118.66,356.22 118.86,357.04 119.06,354.50 119.26,357.49 119.46,357.06 119.66,351.17 119.86,356.33 120.06,355.40 120.26,353.45 120.46,353.92 120.66,355.51 120.86,357.24 121.06,355.29 121.26,350.85 121.47,352.76 121.67,353.34 121.87,349.51 122.07,353.09 122.27,351.30 122.47,351.58 122.67,350.28 122.87,353.14 123.07,350.16 123.27,349.95 123.47,352.02 123.67,353.09 123.87,350.45 124.07,350.18 124.27,352.09 124.47,351.21 124.67,350.34 124.87,351.99 125.00,351.51 125.00,341.00 125.30,341.00 125.30,351.51 125.27,348.00 125.47,347.71 125.67,352.76 125.87,347.58 126.07,345.86 126.27,347.75 126.47,348.26 126.67,349.76 126.87,351.61 127.07,347.64 127.27,344.59 127.47,345.97 127.68,348.05 127.88,349.59 128.08,346.31 128.28,344.92 128.48,345.42 128.68,343.26 128.88,343.43 129.08,349.28 129.28,348.54 129.48,343.98 129.68,342.72 129.88,346.61 130.08,346.38 130.28,345.64 130.48,341.26 130.68,344.02 130.88,342.62 131.08,346.28 131.28,340.52 131.48,345.10 131.68,342.26 131.88,345.30 132.08,342.35 132.28,345.54 132.48,342.37 132.68,341.36 132.88,341.53 133.08,344.91 133.28,340.28 133.48,342.39 133.68,343.33 133.88,335.81 134.09,341.42 134.29,340.67 134.49,343.91 134.69,339.55 134.89,341.37 135.09,337.73 135.29,336.71 135.49,340.34 135.69,340.38 135.89,340.01 136.09,335.62 136.29,341.07 136.49,338.60 136.69,338.31 136.89,341.13 137.09,338.54 137.29,337.11 137.49,334.76 137.69,336.35 137.89,338.30 138.09,332.90 138.29,336.67 138.49,334.94 138.69,334.39 138.89,337.16 139.09,334.63 139.29,331.77 139.49,333.00 139.69,335.32 139.89,335.26 140.09,330.24 140.29,331.75 140.50,333.65 140.70,335.29 140.90,333.60 141.10,331.01 141.30,333.17 141.50,330.35 141.70,332.13 141.90,331.14 142.10,332.86 142.30,333.05 142.50,333.16 142.70,331.04 142.90,330.46 143.10,330.78 143.30,332.75 143.50,330.13 144.20,328.50 144.40,298.40 145.50,297.80 146.50,299.00 147.20,298.40 147.50,326.30 149.00,325.00 150.00,323.00 152.00,320.00 153.00,321.50 155.00,316.40 157.00,314.00 158.00,315.00 160.00,306.60 162.00,303.00 163.00,301.50 164.40,294.60 166.00,295.50 168.00,293.00 169.50,292.00 170.50,291.00 170.80,265.40 172.00,266.00 174.00,264.00 175.00,265.00 177.00,262.80 179.00,261.50 181.00,257.80 183.00,257.00 184.50,255.00 186.00,254.00 186.30,278.00 188.00,275.00 190.00,271.40 191.50,270.70 193.20,269.60 194.00,264.70 196.30,262.20 198.00,262.90 200.00,263.50 201.50,265.00 202.00,262.00 203.40,259.80 204.50,256.00 205.00,252.40 207.00,253.00 209.00,252.50 210.80,251.90" fill="none" stroke="#000" stroke-width="0.5" stroke-linejoin="miter" stroke-opacity="1"/>
<line x1="70.5" y1="394.8" x2="211.5" y2="260.2" stroke="#E8641C" stroke-width="3.2" stroke-linecap="round"/>
<text transform="translate(135.00,283.00) scale(0.83,1)" font-size="8.2" text-anchor="start" font-weight="bold" fill="#000">KRAS</text>
<text transform="translate(170.00,249.00) scale(0.83,1)" font-size="8.2" text-anchor="start" font-weight="bold" fill="#000">TP53</text>
<text transform="translate(187.00,326.00) scale(0.83,1)" font-size="8.2" text-anchor="start" font-weight="bold" fill="#000">R² = 0.9407</text>
<path d="M328.50,235.20 V409.20 H510.50" fill="none" stroke="#858585" stroke-width="1.05"/>
<text transform="translate(320.90,412.35) scale(0.83,1)" font-size="10.0" text-anchor="end" fill="#000">0</text>
<text transform="translate(320.90,387.49) scale(0.83,1)" font-size="10.0" text-anchor="end" fill="#000">0.002</text>
<text transform="translate(320.90,362.64) scale(0.83,1)" font-size="10.0" text-anchor="end" fill="#000">0.004</text>
<text transform="translate(320.90,337.78) scale(0.83,1)" font-size="10.0" text-anchor="end" fill="#000">0.006</text>
<text transform="translate(320.90,312.92) scale(0.83,1)" font-size="10.0" text-anchor="end" fill="#000">0.008</text>
<text transform="translate(320.90,288.06) scale(0.83,1)" font-size="10.0" text-anchor="end" fill="#000">0.01</text>
<text transform="translate(320.90,263.21) scale(0.83,1)" font-size="10.0" text-anchor="end" fill="#000">0.012</text>
<text transform="translate(320.90,238.35) scale(0.83,1)" font-size="10.0" text-anchor="end" fill="#000">0.014</text>
<text transform="translate(328.50,423.90) scale(0.83,1)" font-size="10.0" text-anchor="middle" fill="#000">0</text>
<text transform="translate(364.90,423.90) scale(0.83,1)" font-size="10.0" text-anchor="middle" fill="#000">0.02</text>
<text transform="translate(401.30,423.90) scale(0.83,1)" font-size="10.0" text-anchor="middle" fill="#000">0.04</text>
<text transform="translate(437.70,423.90) scale(0.83,1)" font-size="10.0" text-anchor="middle" fill="#000">0.06</text>
<text transform="translate(474.10,423.90) scale(0.83,1)" font-size="10.0" text-anchor="middle" fill="#000">0.08</text>
<text transform="translate(510.50,423.90) scale(0.83,1)" font-size="10.0" text-anchor="middle" fill="#000">0.1</text>
<path d="M326.00,409.20 H328.50 M326.00,384.34 H328.50 M326.00,359.49 H328.50 M326.00,334.63 H328.50 M326.00,309.77 H328.50 M326.00,284.91 H328.50 M326.00,260.06 H328.50 M326.00,235.20 H328.50 M328.50,409.20 V412.50 M364.90,409.20 V412.50 M401.30,409.20 V412.50 M437.70,409.20 V412.50 M474.10,409.20 V412.50 M510.50,409.20 V412.50" fill="none" stroke="#858585" stroke-width="1.05"/>
<text transform="translate(284.20,316.90) scale(0.84,1) rotate(-90)" font-size="10.2" text-anchor="middle" fill="#000">Density of nonsense mutations</text>
<text transform="translate(424.00,442.60) scale(0.85,1)" font-size="10.0" text-anchor="middle" fill="#000">Density of silent mutations</text>
<polyline points="328.70,399.00 330.30,405.40 331.50,400.00 333.70,390.00 335.00,384.50 337.00,380.30 337.00,383.46 337.20,384.28 337.40,377.73 337.60,380.09 337.80,381.39 338.00,372.69 338.20,375.76 338.40,379.11 338.60,371.93 338.80,373.88 339.00,369.85 339.20,369.65 339.40,358.54 339.60,377.83 339.80,376.52 340.00,377.29 340.20,378.90 340.40,378.78 340.60,372.52 340.80,372.93 341.00,367.23 341.20,382.73 341.40,378.11 341.60,371.76 341.80,372.25 342.00,378.15 342.20,369.62 342.40,371.21 342.60,369.67 342.80,375.20 343.00,380.95 343.20,370.86 343.40,380.17 343.60,375.72 343.80,371.55 344.00,376.92 344.00,365.00 344.30,365.00 344.30,376.92 344.20,366.69 344.40,374.23 344.60,372.91 344.80,382.43 345.00,371.19 345.20,376.29 345.40,366.16 345.60,367.19 345.80,375.88 346.00,382.33 346.20,379.35 346.40,364.02 346.60,366.83 346.80,365.85 347.00,372.77 347.20,378.17 347.40,378.68 347.60,373.43 347.80,373.31 348.00,362.83 348.20,362.75 348.40,371.27 348.40,351.50 348.70,351.50 348.70,371.27 348.60,362.58 348.80,370.80 349.00,364.62 349.20,373.65 349.40,365.76 349.60,363.23 349.80,369.19 350.00,375.66 350.20,365.91 350.40,376.53 350.60,361.72 350.80,363.92 351.00,370.65 351.20,372.07 351.40,374.70 351.60,372.39 351.80,372.26 352.00,361.96 352.20,378.19 352.40,366.48 352.60,371.90 352.80,371.51 353.00,381.20 353.20,350.46 353.40,366.93 353.60,377.80 353.80,360.23 354.00,366.86 354.20,370.52 354.40,371.21 354.60,362.17 354.80,373.84 355.00,361.92 355.00,360.00 355.30,360.00 355.30,361.92 355.20,376.35 355.40,367.45 355.60,361.07 355.80,377.19 356.00,369.71 356.20,370.63 356.40,372.42 356.60,365.75 356.80,366.28 357.00,372.87 357.20,378.51 357.40,372.83 357.60,366.63 357.80,379.92 358.00,365.15 358.20,368.33 358.40,368.57 358.60,369.28 358.80,374.87 359.00,376.64 359.20,365.48 359.40,365.43 359.60,376.23 359.80,355.02 360.00,363.74 360.20,376.65 360.40,354.40 360.60,370.93 360.80,371.12 361.00,370.48 361.20,365.56 361.40,367.76 361.70,364.31 361.70,352.20 362.00,352.20 362.00,364.31 361.80,368.89 362.00,365.51 362.20,363.49 362.40,365.36 362.60,369.90 362.80,368.39 363.00,366.11 363.20,365.61 363.40,370.23 363.60,345.23 363.80,370.09 364.00,370.65 364.20,362.15 364.40,364.64 364.60,364.91 364.80,376.28 365.00,369.58 365.20,367.42 365.40,362.86 365.60,364.82 365.80,369.36 366.00,367.73 366.20,359.51 366.40,366.54 366.60,366.86 366.80,356.15 367.00,354.20 367.20,362.74 367.40,362.68 367.60,363.74 367.80,365.79 368.00,366.97 368.20,371.25 368.40,356.56 368.60,366.63 368.80,371.62 369.00,370.22 369.20,355.72 369.40,366.58 369.60,366.47 369.80,361.88 370.00,359.03 370.20,364.48 370.40,373.20 370.60,361.01 370.80,361.98 371.00,362.32 371.20,370.18 371.40,363.25 371.60,352.36 371.80,352.28 372.00,361.38 372.20,359.51 372.40,359.87 372.60,371.72 372.80,367.18 373.00,362.31 373.20,367.05 373.40,370.68 373.60,360.50 373.80,356.65 374.00,351.40 374.20,365.05 374.30,348.60 374.30,350.00 374.60,350.00 374.60,348.60 374.60,355.37 374.80,357.55 375.00,354.80 375.20,363.88 375.40,359.55 375.60,368.38 375.80,350.99 376.00,372.87 376.20,369.43 376.40,358.48 376.60,356.76 376.80,353.94 377.00,362.91 377.20,361.68 377.40,358.99 377.60,358.17 377.80,359.42 378.00,358.25 378.20,357.19 378.40,365.79 378.60,367.42 378.80,358.27 379.00,362.88 379.20,356.18 379.40,363.73 379.60,349.16 379.80,359.65 380.00,361.83 380.20,360.12 380.40,356.80 380.70,361.11 380.70,348.70 381.00,348.70 381.00,361.11 380.80,360.77 381.00,370.67 381.20,355.73 381.40,352.89 381.60,362.95 381.80,363.56 382.00,360.61 382.20,358.63 382.40,367.74 382.60,370.13 382.80,356.77 383.00,369.08 383.20,363.17 383.40,364.76 383.60,359.11 383.80,359.87 384.00,368.38 384.20,354.43 384.40,359.03 384.60,362.01 384.80,354.95 385.00,352.84 385.20,355.06 385.40,366.45 385.60,360.70 385.80,355.43 386.00,344.95 386.20,362.39 386.40,359.26 386.60,359.19 386.80,354.85 387.00,359.37 387.20,356.05 387.40,365.59 387.70,362.15 387.70,340.30 388.00,340.30 388.00,362.15 387.80,352.92 388.00,364.55 388.20,360.67 388.40,368.20 388.60,359.85 388.80,362.21 389.00,355.49 389.50,358.00 389.80,326.30 390.60,330.00 392.00,362.00 392.50,356.35 393.00,345.57 393.50,345.18 394.00,343.32 394.50,342.04 395.00,347.15 395.50,352.50 396.00,351.26 396.50,357.46 397.00,362.24 397.50,357.82 398.00,357.61 398.50,352.68 399.00,350.13 399.50,347.85 400.00,341.10 400.50,341.48 401.00,336.07 401.50,335.18 402.00,340.31 402.50,340.83 403.00,340.48 403.50,341.57 404.00,344.75 404.50,343.20 405.00,345.45 405.50,350.94 406.00,351.03 406.50,354.05 407.00,353.99 407.50,355.97 408.00,351.17 408.50,354.39 409.00,353.59 409.50,353.53 410.00,352.86 410.50,348.33 411.00,347.57 411.50,349.36 412.00,346.80 412.50,345.52 413.00,340.84 413.50,345.39 414.00,342.28 414.50,342.14 415.00,337.06 415.50,340.00 416.00,335.38 416.50,340.04 417.00,338.45 417.50,338.45 418.00,336.13 418.50,339.27 419.00,339.57 419.50,338.09 420.00,342.35 420.50,341.77 421.00,339.96 421.50,344.20 422.00,337.55 422.50,335.73 423.00,331.08 423.50,330.26 424.00,332.62 424.50,334.67 425.00,328.69 425.50,328.14 426.00,327.93 426.50,329.98 427.00,332.07 427.50,328.65 428.00,327.64 428.50,329.38 429.00,328.72 429.50,327.00 430.00,327.36 430.30,249.00 432.00,251.00 433.50,248.50 435.00,252.00 436.50,250.00 438.00,253.00 440.00,250.50 441.50,252.50 443.00,249.50 444.50,251.00 445.80,250.50 446.20,332.60 448.00,330.00 450.40,328.80 452.00,330.00 455.40,325.00 457.00,326.50 459.20,323.80 461.00,326.00 463.00,328.80 465.00,326.00 466.90,325.80 469.00,326.50 472.00,327.60" fill="none" stroke="#000" stroke-width="0.5" stroke-linejoin="miter" stroke-opacity="1"/>
<line x1="328.5" y1="387.2" x2="472.7" y2="301.7" stroke="#E8641C" stroke-width="3.2" stroke-linecap="round"/>
<text transform="translate(432.50,238.40) scale(0.83,1)" font-size="8.2" text-anchor="start" font-weight="bold" fill="#000">TP53</text>
<text transform="translate(446.60,358.00) scale(0.83,1)" font-size="8.2" text-anchor="start" font-weight="bold" fill="#000">R² = 0.6629</text>
<path d="M588.50,234.70 V406.10 H771.10" fill="none" stroke="#858585" stroke-width="1.05"/>
<text transform="translate(580.90,409.25) scale(0.83,1)" font-size="10.0" text-anchor="end" fill="#000">0</text>
<text transform="translate(580.90,380.68) scale(0.83,1)" font-size="10.0" text-anchor="end" fill="#000">0.002</text>
<text transform="translate(580.90,352.12) scale(0.83,1)" font-size="10.0" text-anchor="end" fill="#000">0.004</text>
<text transform="translate(580.90,323.55) scale(0.83,1)" font-size="10.0" text-anchor="end" fill="#000">0.006</text>
<text transform="translate(580.90,294.98) scale(0.83,1)" font-size="10.0" text-anchor="end" fill="#000">0.008</text>
<text transform="translate(580.90,266.42) scale(0.83,1)" font-size="10.0" text-anchor="end" fill="#000">0.01</text>
<text transform="translate(580.90,237.85) scale(0.83,1)" font-size="10.0" text-anchor="end" fill="#000">0.012</text>
<text transform="translate(588.50,420.80) scale(0.83,1)" font-size="10.0" text-anchor="middle" fill="#000">0</text>
<text transform="translate(625.02,420.80) scale(0.83,1)" font-size="10.0" text-anchor="middle" fill="#000">0.02</text>
<text transform="translate(661.54,420.80) scale(0.83,1)" font-size="10.0" text-anchor="middle" fill="#000">0.04</text>
<text transform="translate(698.06,420.80) scale(0.83,1)" font-size="10.0" text-anchor="middle" fill="#000">0.06</text>
<text transform="translate(734.58,420.80) scale(0.83,1)" font-size="10.0" text-anchor="middle" fill="#000">0.08</text>
<text transform="translate(771.10,420.80) scale(0.83,1)" font-size="10.0" text-anchor="middle" fill="#000">0.1</text>
<path d="M586.00,406.10 H588.50 M586.00,377.53 H588.50 M586.00,348.97 H588.50 M586.00,320.40 H588.50 M586.00,291.83 H588.50 M586.00,263.27 H588.50 M586.00,234.70 H588.50 M588.50,406.10 V409.40 M625.02,406.10 V409.40 M661.54,406.10 V409.40 M698.06,406.10 V409.40 M734.58,406.10 V409.40 M771.10,406.10 V409.40" fill="none" stroke="#858585" stroke-width="1.05"/>
<text transform="translate(545.80,313.20) scale(0.84,1) rotate(-90)" font-size="10.2" text-anchor="middle" fill="#000">Density of frameshift mutations</text>
<text transform="translate(684.80,439.30) scale(0.85,1)" font-size="10.0" text-anchor="middle" fill="#000">Density of silent mutations</text>
<polyline points="588.50,405.50 590.00,395.00 592.00,380.00 593.50,369.70 595.00,366.70 596.50,380.00 598.00,370.00 598.00,344.00 598.15,364.22 598.30,349.24 598.45,355.64 598.60,359.52 598.75,364.67 598.90,343.84 599.05,360.83 599.20,343.60 599.40,363.73 599.40,343.60 599.70,343.60 599.70,363.73 599.50,340.15 599.65,342.10 599.80,351.20 599.95,358.25 600.10,351.68 600.25,362.69 600.40,367.79 600.55,365.73 600.70,357.41 600.85,371.06 601.00,365.75 601.15,370.23 601.30,339.93 601.45,355.63 601.60,363.63 601.75,369.75 601.90,357.41 602.05,359.24 602.20,350.37 602.35,366.80 602.50,353.13 602.65,342.45 602.80,365.96 602.95,344.17 603.10,371.75 603.25,353.84 603.40,347.61 603.55,338.06 603.70,366.13 603.85,341.25 604.00,366.28 604.15,348.00 604.30,367.21 604.45,362.28 604.60,362.96 604.75,377.12 604.90,345.18 605.05,367.35 605.20,342.56 605.35,353.79 605.50,347.36 605.65,354.14 605.80,361.84 605.95,347.81 606.10,367.05 606.25,350.90 606.40,369.15 606.55,352.78 606.70,355.25 606.85,357.24 607.00,356.48 607.15,370.78 607.30,377.55 607.45,363.01 607.60,356.65 607.75,361.89 607.90,364.51 608.05,336.13 608.20,377.70 608.40,347.05 608.40,333.00 608.70,333.00 608.70,347.05 608.50,362.98 608.65,345.45 608.80,368.90 608.95,373.85 609.10,354.08 609.25,363.32 609.40,352.57 609.55,374.74 609.70,365.39 609.85,361.17 610.00,357.08 610.15,367.77 610.30,355.03 610.45,362.47 610.60,343.31 610.75,359.55 610.90,365.73 611.05,347.52 611.20,367.64 611.35,343.92 611.50,347.10 611.65,352.21 611.80,365.78 611.95,358.69 612.10,376.12 612.25,340.60 612.40,356.09 612.55,374.79 612.70,351.50 612.85,373.64 613.00,357.49 613.15,378.00 613.30,340.88 613.45,373.09 613.60,376.55 613.75,372.81 613.90,345.10 614.05,372.65 614.20,341.12 614.35,360.04 614.50,374.45 614.65,367.18 614.80,363.98 614.95,367.12 615.10,367.46 615.25,344.23 615.40,341.44 615.55,358.10 615.70,359.46 615.85,355.80 616.00,357.55 616.15,366.86 616.30,358.23 616.45,350.86 616.60,359.80 616.75,357.98 616.90,356.01 617.05,363.14 617.20,350.46 617.35,362.48 617.50,362.36 617.65,341.40 617.80,359.35 617.95,360.27 618.10,365.71 618.25,378.00 618.40,376.18 618.55,355.73 618.70,359.81 618.85,342.36 619.00,353.04 619.15,355.87 619.30,364.18 619.45,361.69 619.60,374.15 619.60,334.00 619.90,334.00 619.90,374.15 619.75,362.39 619.90,365.38 620.05,346.19 620.20,356.01 620.35,351.75 620.50,368.98 620.65,347.67 620.80,346.60 620.95,346.38 621.10,358.69 621.25,355.84 621.40,363.32 621.55,378.00 621.70,357.88 621.85,346.37 622.00,360.17 622.15,365.46 622.30,376.72 622.45,355.04 622.60,378.00 622.75,365.49 622.90,359.06 623.05,360.63 623.20,358.88 623.35,360.15 623.50,347.34 623.65,355.00 623.80,343.99 623.95,343.65 624.10,352.37 624.25,365.89 624.40,356.29 624.55,348.36 624.70,354.49 624.85,356.86 625.00,356.11 625.20,362.35 625.55,361.59 625.90,378.00 626.25,360.66 626.60,373.55 626.95,370.03 627.30,374.79 627.65,369.38 628.00,364.58 628.35,361.29 628.70,358.53 629.05,384.36 629.40,362.64 629.75,378.00 630.11,351.95 630.46,364.64 630.81,367.40 631.16,355.66 631.51,369.54 631.86,366.78 632.21,358.01 632.56,354.95 632.91,372.78 633.26,367.01 633.61,354.10 633.96,355.23 634.31,358.35 634.66,372.49 635.01,358.36 635.36,368.46 635.71,370.28 636.06,353.05 636.41,373.18 636.76,378.00 637.11,359.43 637.46,353.78 637.81,371.24 638.16,373.13 638.51,368.74 638.86,383.84 639.21,373.48 639.57,352.39 639.92,367.00 640.27,358.77 640.62,373.74 640.97,357.82 641.32,362.53 641.67,363.46 642.02,348.99 642.37,355.00 642.70,363.04 642.70,340.60 643.00,340.60 643.00,363.04 643.07,372.68 643.42,367.60 643.77,369.42 644.12,372.00 644.47,369.20 644.82,363.79 645.17,357.15 645.52,353.89 645.87,374.32 646.22,354.89 646.57,352.46 646.92,362.71 647.27,353.22 647.62,362.53 647.97,355.74 648.20,359.93 648.20,325.00 648.50,325.00 648.50,359.93 648.67,352.90 649.03,366.51 649.38,358.26 649.73,367.96 650.08,355.81 650.43,349.52 650.78,353.33 651.13,364.91 651.48,358.61 651.83,355.00 652.18,357.40 652.53,361.39 652.88,349.73 653.23,358.15 653.58,367.00 653.93,345.00 654.28,352.20 654.63,346.71 654.98,358.85 655.33,361.21 655.68,359.04 656.03,358.00 656.38,349.29 656.73,359.58 657.08,370.58 657.43,364.56 657.78,368.69 658.13,357.81 658.49,364.16 658.84,348.20 659.19,357.78 659.54,360.69 659.89,347.57 660.24,364.75 660.59,350.96 660.94,369.25 661.29,361.55 661.64,355.08 661.99,354.38 662.34,356.90 662.69,351.79 663.04,364.45 663.39,350.68 663.74,343.32 664.00,349.70 664.00,342.00 664.30,342.00 664.30,349.70 664.44,357.57 664.79,349.18 665.14,344.83 665.49,353.30 665.84,356.30 666.19,350.39 666.54,353.06 666.89,359.02 667.24,358.35 667.59,361.30 667.95,351.11 668.30,360.10 668.65,354.20 669.00,344.40 669.35,355.25 669.70,366.00 670.05,358.72 670.40,347.33 670.75,344.53 671.10,352.07 671.45,363.23 671.80,353.21 672.15,336.27 672.50,348.39 673.00,340.60 675.00,334.60 676.50,347.30 679.00,356.30 681.00,357.80 683.00,353.30 685.00,348.80 686.50,345.80 688.00,336.90 689.00,329.40 689.50,328.60 690.30,274.00 691.50,269.00 692.50,267.00 693.50,263.90 694.50,265.80 695.50,265.20 697.00,265.80 698.50,263.20 700.00,263.90 701.00,267.00 702.50,267.70 703.50,280.40 704.50,271.50 705.50,269.60 706.30,326.00 707.50,329.90 708.50,322.30 709.50,326.00 711.00,318.50 712.50,323.50 714.50,326.00 717.50,324.20 720.00,321.60 722.00,319.70 724.00,321.00 727.00,317.20 729.00,316.50 731.50,317.00" fill="none" stroke="#000" stroke-width="0.5" stroke-linejoin="miter" stroke-opacity="1"/>
<line x1="588.5" y1="371.5" x2="733.2" y2="328.3" stroke="#E8641C" stroke-width="3.2" stroke-linecap="round"/>
<text transform="translate(692.00,247.00) scale(0.83,1)" font-size="8.2" text-anchor="start" font-weight="bold" fill="#000">TP53</text>
<text transform="translate(725.00,357.00) scale(0.83,1)" font-size="8.2" text-anchor="start" font-weight="bold" fill="#000">R² = 0.2211</text>
<path d="M65.50,457.00 V617.90 H248.80" fill="none" stroke="#858585" stroke-width="1.05"/>
<text transform="translate(57.90,621.05) scale(0.83,1)" font-size="10.0" text-anchor="end" fill="#000">0.01</text>
<text transform="translate(57.90,580.82) scale(0.83,1)" font-size="10.0" text-anchor="end" fill="#000">0.02</text>
<text transform="translate(57.90,540.60) scale(0.83,1)" font-size="10.0" text-anchor="end" fill="#000">0.03</text>
<text transform="translate(57.90,500.38) scale(0.83,1)" font-size="10.0" text-anchor="end" fill="#000">0.04</text>
<text transform="translate(57.90,460.15) scale(0.83,1)" font-size="10.0" text-anchor="end" fill="#000">0.05</text>
<text transform="translate(65.50,632.60) scale(0.83,1)" font-size="10.0" text-anchor="middle" fill="#000">1.5</text>
<text transform="translate(96.05,632.60) scale(0.83,1)" font-size="10.0" text-anchor="middle" fill="#000">1</text>
<text transform="translate(126.60,632.60) scale(0.83,1)" font-size="10.0" text-anchor="middle" fill="#000">0.5</text>
<text transform="translate(157.15,632.60) scale(0.83,1)" font-size="10.0" text-anchor="middle" fill="#000">0</text>
<text transform="translate(187.70,632.60) scale(0.83,1)" font-size="10.0" text-anchor="middle" fill="#000">-0.5</text>
<text transform="translate(218.25,632.60) scale(0.83,1)" font-size="10.0" text-anchor="middle" fill="#000">-1</text>
<text transform="translate(248.80,632.60) scale(0.83,1)" font-size="10.0" text-anchor="middle" fill="#000">-1.5</text>
<path d="M63.00,617.90 H65.50 M63.00,577.67 H65.50 M63.00,537.45 H65.50 M63.00,497.23 H65.50 M63.00,457.00 H65.50 M65.50,617.90 V621.20 M96.05,617.90 V621.20 M126.60,617.90 V621.20 M157.15,617.90 V621.20 M187.70,617.90 V621.20 M218.25,617.90 V621.20 M248.80,617.90 V621.20" fill="none" stroke="#858585" stroke-width="1.05"/>
<text transform="translate(31.00,551.50) scale(0.84,1) rotate(-90)" font-size="10.2" text-anchor="middle" fill="#000">Density of missense mutations</text>
<text transform="translate(153.80,653.80) scale(0.85,1)" font-size="10.0" text-anchor="middle" fill="#000">Replication time</text>
<polyline points="83.00,587.31 83.30,577.94 83.60,573.83 83.90,574.96 84.20,576.14 84.50,583.94 84.80,579.43 85.10,574.19 85.40,581.58 85.70,582.34 86.00,571.26 86.30,585.70 86.60,581.51 86.90,575.39 87.20,576.39 87.50,577.30 87.80,580.55 88.10,580.04 88.40,576.02 88.70,581.81 89.00,570.71 89.30,569.10 89.60,588.93 89.90,576.32 90.20,575.75 90.50,583.14 90.80,572.92 91.10,584.79 91.40,575.36 91.70,573.28 92.00,569.59 92.30,571.40 92.60,566.00 92.90,583.70 93.20,560.68 93.50,582.40 93.80,582.44 94.10,583.20 94.40,586.36 94.70,577.05 95.00,588.58 95.30,579.51 95.60,577.89 95.90,573.70 96.20,568.56 96.50,580.04 96.80,579.75 97.10,576.21 97.40,572.09 97.70,564.92 98.00,574.18 98.30,574.99 98.60,576.33 98.90,582.25 99.20,566.89 99.50,564.20 99.80,580.17 100.10,578.11 100.40,573.17 100.70,574.44 101.00,565.95 101.30,574.78 101.60,581.04 101.90,571.70 102.20,563.12 102.50,573.31 102.80,575.28 103.10,588.75 103.40,578.91 103.70,572.71 104.00,574.49 104.30,562.48 104.60,573.22 104.90,568.62 105.20,571.78 105.50,573.63 105.80,580.34 106.10,561.56 106.40,579.56 106.70,582.52 107.00,571.48 107.30,579.70 107.60,567.16 107.90,588.42 108.20,577.22 108.50,588.30 108.80,588.24 109.10,565.29 109.40,572.74 109.70,565.51 110.00,569.26 110.30,574.81 110.60,580.94 110.90,572.69 111.20,574.32 111.50,570.15 111.80,573.70 112.10,565.15 112.40,576.88 112.70,583.78 113.00,569.15 113.30,566.66 113.60,560.30 113.90,571.73 114.20,558.60 114.50,565.36 114.80,564.63 115.10,578.97 115.40,586.56 115.70,578.03 116.00,573.49 116.30,582.08 116.60,578.85 116.90,573.47 117.20,576.53 117.50,580.41 117.80,566.05 118.10,571.56 118.40,574.80 118.70,582.58 119.00,571.28 119.30,577.08 119.60,573.98 119.90,575.51 120.20,578.74 120.50,585.20 120.80,581.54 121.10,568.08 121.40,575.24 121.70,574.88 122.00,572.61 122.30,584.61 122.60,569.67 122.90,578.48 123.20,547.02 123.50,563.66 123.80,555.40 124.10,576.36 124.40,575.84 124.70,555.10 125.00,572.46 125.30,571.80 125.60,555.06 125.90,572.67 126.20,563.07 126.50,557.45 126.80,558.45 127.10,561.72 127.40,554.36 127.70,568.93 128.00,559.86 128.30,574.68 128.60,566.77 128.90,551.88 129.20,554.98 129.50,563.81 129.80,568.97 130.10,565.08 130.40,563.35 130.70,575.80 131.00,569.26 131.30,567.86 131.60,567.77 131.90,573.60 132.20,572.44 132.50,565.38 132.80,562.52 133.10,574.27 133.40,578.96 133.70,558.40 134.00,563.09 134.30,568.37 134.60,560.91 134.90,569.31 135.20,573.16 135.50,553.89 135.80,554.83 136.10,551.10 136.40,574.84 136.70,565.90 137.00,550.30 137.30,574.70 137.60,569.29 137.90,545.84 138.20,554.68 138.50,559.37 138.80,567.22 139.10,557.94 139.40,556.12 139.70,571.34 140.00,548.57 140.30,553.28 140.60,548.45 140.90,545.86 141.20,548.10 141.50,554.99 141.80,559.21 142.10,546.72 142.40,558.28 142.70,569.35 143.00,559.23 143.30,566.34 143.60,570.03 143.90,560.10 144.20,553.64 144.50,563.05 144.80,560.90 145.10,553.74 145.40,567.55 145.70,555.02 146.00,562.50 146.30,567.23 146.60,555.81 146.90,554.16 147.20,557.09 147.50,558.78 147.80,555.14 148.10,552.52 148.40,545.73 148.70,568.10 149.00,561.81 149.30,556.57 149.60,549.22 149.90,565.76 150.20,556.08 150.50,553.60 150.80,566.66 151.10,552.13 151.40,559.98 151.70,551.41 152.00,561.84 152.30,554.66 152.60,549.48 152.90,561.88 153.20,556.23 153.50,555.32 153.80,557.02 154.10,557.18 154.40,550.80 154.70,552.04 155.00,554.96 155.30,544.71 155.60,550.41 155.90,556.47 156.20,539.40 156.50,548.85 156.80,551.62 157.10,543.16 157.40,558.16 157.70,556.12 158.00,561.43 158.30,538.35 158.60,548.93 158.90,554.77 159.20,555.71 159.50,558.54 159.80,538.59 160.10,555.16 160.40,557.59 160.70,548.62 161.00,548.94 161.30,547.58 161.60,541.27 161.90,542.34 162.20,550.49 162.50,561.46 162.80,547.18 163.10,554.99 163.40,552.76 163.70,544.96 164.00,549.68 164.30,544.20 164.60,557.46 164.90,553.78 165.20,540.72 165.50,558.03 165.80,539.92 166.10,537.46 166.40,546.58 166.70,535.34 167.00,535.40 167.30,550.52 167.60,545.07 168.00,536.59 168.00,533.90 168.30,533.90 168.30,536.59 168.20,551.73 168.50,535.70 168.80,549.87 169.10,550.56 169.40,542.84 169.70,549.46 170.00,539.71 170.30,550.17 170.60,541.95 170.90,540.27 171.20,544.46 171.50,550.01 171.80,546.74 172.10,554.13 172.40,549.82 172.70,553.67 173.00,552.50 173.30,552.69 173.60,539.35 173.90,552.01 174.20,543.06 174.50,539.00 174.80,537.51 175.10,551.07 175.40,541.19 175.70,537.07 176.00,547.81 176.30,549.78 176.60,543.38 176.90,543.41 177.20,548.76 177.50,542.30 177.80,546.47 178.10,543.53 178.40,551.63 178.70,549.07 179.00,545.06 179.30,540.28 179.60,545.63 179.90,547.44 180.20,544.55 180.50,543.98 180.80,549.36 181.10,542.37 181.40,541.31 181.70,545.17 182.00,539.01 182.30,549.05 182.60,541.48 182.90,545.69 183.20,545.66 183.50,537.94 183.80,544.65 184.10,548.71 184.40,539.94 184.70,549.31 185.00,543.00 185.30,546.30 185.60,549.71 185.90,541.88 186.20,537.52 186.50,545.72 186.80,553.92 187.00,551.49 187.00,554.80 187.30,554.80 187.30,551.49 187.40,544.03 187.70,547.86 188.00,549.53 188.30,545.18 188.60,543.25 188.90,545.42 189.20,539.83 189.50,540.49 189.80,539.62 190.10,541.86 190.40,542.40 190.70,546.73 191.00,551.57 191.30,538.87 191.60,539.93 191.90,549.12 192.20,545.76 192.50,535.29 192.80,542.45 193.10,545.86 193.40,547.69 193.70,540.92 194.00,540.06 194.30,542.92 194.60,548.04 194.90,549.90 195.20,539.52 195.50,539.42 195.80,548.65 196.10,541.77 196.40,549.26 196.70,538.35 197.00,535.11 197.30,548.64 197.60,535.06 197.90,541.74 198.20,542.21 198.50,542.84 198.80,534.84 199.10,536.77 199.40,535.63 199.70,545.92 200.00,539.85 200.30,533.40 200.60,531.29 200.90,536.54 201.20,528.72 201.50,535.41 201.80,543.01 202.10,536.73 202.40,535.21 202.70,533.23 203.00,528.29 203.30,530.87 203.60,518.08 203.90,520.22 204.20,518.00 204.50,514.94 204.80,518.58 205.10,518.92 205.40,516.94 205.70,518.10 206.00,520.48 206.30,510.65 206.60,509.60 206.90,510.19 207.20,506.66 207.50,513.80 207.80,505.95 208.10,511.86 208.40,508.07 208.70,509.88 209.00,507.05 209.30,515.61 209.60,508.79 209.90,510.58 210.20,511.89 210.50,510.61 210.80,513.08 211.10,511.10 211.40,518.96 211.70,519.99 212.00,517.99 212.30,508.60 212.60,516.74 212.90,516.82 213.20,519.56 213.50,509.59 213.80,511.75 214.10,515.37 214.40,509.93 214.70,511.09 215.00,515.00 215.30,506.29 215.60,506.03 215.90,508.88 216.20,507.83 216.50,504.82 216.80,513.20 217.10,509.91 217.40,509.12 217.70,509.11 218.00,507.79 218.30,511.00 218.60,510.00 218.90,505.40 219.20,503.19 219.50,503.33" fill="none" stroke="#000" stroke-width="0.5" stroke-linejoin="miter" stroke-opacity="1"/>
<line x1="82.6" y1="588.6" x2="220.6" y2="521.4" stroke="#E8641C" stroke-width="3.2" stroke-linecap="round"/>
<text transform="translate(142.00,519.00) scale(0.83,1)" font-size="8.2" text-anchor="start" font-weight="bold" fill="#000">R² = 0.8723</text>
<path d="M326.00,456.90 V617.90 H509.30" fill="none" stroke="#858585" stroke-width="1.05"/>
<text transform="translate(318.40,621.05) scale(0.83,1)" font-size="10.0" text-anchor="end" fill="#000">0.01</text>
<text transform="translate(318.40,594.22) scale(0.83,1)" font-size="10.0" text-anchor="end" fill="#000">0.02</text>
<text transform="translate(318.40,567.38) scale(0.83,1)" font-size="10.0" text-anchor="end" fill="#000">0.03</text>
<text transform="translate(318.40,540.55) scale(0.83,1)" font-size="10.0" text-anchor="end" fill="#000">0.04</text>
<text transform="translate(318.40,513.72) scale(0.83,1)" font-size="10.0" text-anchor="end" fill="#000">0.05</text>
<text transform="translate(318.40,486.88) scale(0.83,1)" font-size="10.0" text-anchor="end" fill="#000">0.06</text>
<text transform="translate(318.40,460.05) scale(0.83,1)" font-size="10.0" text-anchor="end" fill="#000">0.07</text>
<text transform="translate(326.00,632.60) scale(0.83,1)" font-size="10.0" text-anchor="middle" fill="#000">1.5</text>
<text transform="translate(356.55,632.60) scale(0.83,1)" font-size="10.0" text-anchor="middle" fill="#000">1</text>
<text transform="translate(387.10,632.60) scale(0.83,1)" font-size="10.0" text-anchor="middle" fill="#000">0.5</text>
<text transform="translate(417.65,632.60) scale(0.83,1)" font-size="10.0" text-anchor="middle" fill="#000">0</text>
<text transform="translate(448.20,632.60) scale(0.83,1)" font-size="10.0" text-anchor="middle" fill="#000">-0.5</text>
<text transform="translate(478.75,632.60) scale(0.83,1)" font-size="10.0" text-anchor="middle" fill="#000">-1</text>
<text transform="translate(509.30,632.60) scale(0.83,1)" font-size="10.0" text-anchor="middle" fill="#000">-1.5</text>
<path d="M323.50,617.90 H326.00 M323.50,591.07 H326.00 M323.50,564.23 H326.00 M323.50,537.40 H326.00 M323.50,510.57 H326.00 M323.50,483.73 H326.00 M323.50,456.90 H326.00 M326.00,617.90 V621.20 M356.55,617.90 V621.20 M387.10,617.90 V621.20 M417.65,617.90 V621.20 M448.20,617.90 V621.20 M478.75,617.90 V621.20 M509.30,617.90 V621.20" fill="none" stroke="#858585" stroke-width="1.05"/>
<text transform="translate(286.60,545.00) scale(0.84,1) rotate(-90)" font-size="10.2" text-anchor="middle" fill="#000">Density of nonsense mutations</text>
<text transform="translate(414.00,653.80) scale(0.85,1)" font-size="10.0" text-anchor="middle" fill="#000">Replication time</text>
<polyline points="343.50,586.11 343.75,581.18 344.00,585.80 344.25,581.99 344.50,582.28 344.75,579.34 345.00,587.02 345.25,580.90 345.50,576.01 345.75,589.07 346.00,583.17 346.25,581.93 346.50,584.71 346.75,584.60 347.00,588.80 347.25,583.81 347.50,581.42 347.75,583.34 348.00,590.06 348.25,586.73 348.50,576.14 348.75,580.02 349.00,583.05 349.25,571.65 349.50,587.90 349.75,574.35 350.00,572.61 350.25,594.14 350.50,581.15 350.75,578.53 351.00,575.08 351.25,587.27 351.50,586.75 351.75,591.73 352.00,592.58 352.00,560.00 352.30,560.00 352.30,592.58 352.25,579.48 352.50,580.50 352.75,580.93 353.00,583.39 353.25,585.78 353.50,579.67 353.75,582.45 354.00,584.76 354.25,586.54 354.50,582.39 354.75,577.56 355.00,580.66 355.25,582.48 355.50,568.67 355.75,576.34 356.00,571.24 356.25,583.60 356.50,579.65 356.75,580.61 357.00,571.18 357.25,576.94 357.50,573.95 357.75,571.14 358.00,574.12 358.25,575.42 358.50,576.77 358.75,579.72 359.00,579.42 359.25,594.77 359.50,594.85 359.75,582.82 360.00,579.43 360.25,583.39 360.50,580.73 360.75,580.20 361.00,585.62 361.25,579.51 361.50,581.31 361.75,590.07 362.00,563.37 362.25,589.59 362.50,574.52 362.75,590.40 363.00,573.80 363.25,581.00 363.50,571.88 363.70,574.64 363.70,551.90 364.00,551.90 364.00,574.64 364.00,584.12 364.25,582.27 364.50,593.36 364.75,576.35 365.00,569.33 365.25,563.00 365.50,585.90 365.75,581.14 366.00,583.81 366.25,573.97 366.50,586.64 366.75,585.87 367.00,580.96 367.25,582.54 367.50,573.61 367.75,584.56 368.00,577.71 368.25,582.04 368.50,582.91 368.75,575.90 369.00,581.70 369.25,573.52 369.50,592.47 369.75,580.71 370.00,577.02 370.25,570.94 370.50,573.57 370.75,585.41 371.00,577.09 371.25,571.48 371.50,591.93 371.75,583.63 372.00,558.06 372.25,575.89 372.50,574.09 372.75,566.75 373.00,581.10 373.00,554.10 373.30,554.10 373.30,581.10 373.25,572.38 373.50,577.04 373.75,568.37 374.00,582.40 374.25,580.34 374.50,585.30 374.75,577.38 375.00,573.27 375.25,569.03 375.50,579.86 375.75,576.69 376.00,575.43 376.25,580.39 376.50,579.84 376.75,574.91 377.00,577.77 377.25,590.25 377.50,575.49 377.75,570.27 378.00,586.05 378.25,581.97 378.50,564.64 378.75,568.30 379.00,581.88 379.25,579.87 379.50,579.27 379.75,578.14 380.00,574.31 380.25,579.49 380.50,573.21 380.75,589.08 381.00,578.23 381.25,573.28 381.50,581.45 381.75,588.00 382.00,588.67 382.25,588.58 382.50,576.33 382.75,587.43 383.00,586.25 383.25,576.21 383.50,588.17 383.75,576.72 384.00,561.80 384.20,576.16 384.20,546.30 384.50,546.30 384.50,576.16 384.50,573.43 384.75,563.00 385.00,579.60 385.25,572.52 385.50,573.21 385.75,579.71 386.00,583.69 386.25,576.82 386.50,579.90 386.75,572.18 387.00,568.87 387.25,581.52 387.50,567.40 387.75,579.04 388.00,583.73 388.25,563.84 388.50,584.14 388.75,582.67 389.00,567.26 389.25,570.74 389.50,566.64 389.75,561.31 390.00,571.62 390.25,579.72 390.50,585.74 390.75,585.61 391.00,578.31 391.25,578.71 391.50,584.45 391.75,566.48 392.00,558.32 392.00,555.00 392.30,555.00 392.30,558.32 392.25,581.06 392.50,566.79 392.75,583.36 393.00,582.68 393.25,579.05 393.50,574.92 393.75,578.74 394.00,562.65 394.25,564.61 394.50,569.93 394.75,578.99 395.00,566.58 395.25,570.99 395.50,570.82 395.75,566.58 396.00,569.65 396.25,565.77 396.50,573.87 396.75,573.31 397.00,572.28 397.25,555.18 397.50,558.34 397.75,563.37 398.00,568.07 398.25,558.54 398.50,569.65 398.75,573.65 399.00,554.26 399.25,575.07 399.50,574.38 400.20,560.00 400.50,469.00 400.90,478.00 401.20,472.00 401.50,484.00 401.90,556.00 402.10,566.44 402.50,560.01 402.90,563.52 403.30,565.27 403.70,557.11 404.10,557.86 404.50,571.17 404.90,554.89 405.30,573.85 405.70,558.94 406.10,565.13 406.50,565.59 406.90,561.05 407.30,565.89 407.70,550.55 408.10,556.28 408.50,550.36 408.90,558.55 409.30,550.19 409.70,558.71 410.10,563.87 410.50,567.21 410.90,559.21 411.30,559.49 411.70,567.33 412.10,567.01 412.50,560.88 412.90,569.05 413.30,561.22 413.70,566.37 414.10,558.68 414.50,560.89 414.90,563.17 415.30,563.41 415.70,549.15 416.10,556.68 416.50,558.70 416.90,564.79 417.30,564.40 417.70,556.01 418.10,560.60 418.50,564.49 419.00,559.55 419.00,586.60 419.30,586.60 419.30,559.55 419.30,564.01 419.70,561.93 420.10,562.00 420.50,576.80 420.90,556.49 421.30,571.43 421.70,554.35 422.10,570.58 422.50,558.51 422.90,560.69 423.30,560.08 423.70,568.18 424.10,564.32 424.50,567.35 424.90,551.92 425.30,564.43 425.70,570.15 426.10,550.23 426.50,563.78 426.90,569.34 427.30,556.72 427.70,570.05 428.10,566.66 428.50,558.87 428.90,559.62 429.30,563.09 429.70,560.26 430.10,570.69 430.50,562.81 430.90,560.64 431.30,556.44 431.70,565.45 432.10,557.76 432.50,551.47 432.90,571.84 433.30,565.69 433.70,563.79 434.10,548.17 434.50,556.74 434.90,555.66 435.30,558.71 435.70,548.33 436.10,552.76 436.50,556.78 436.90,549.50 437.30,555.74 437.70,545.49 438.10,553.07 438.50,546.93 438.90,561.66 439.30,552.39 439.70,554.18 440.10,555.38 440.50,557.42 440.90,557.02 441.30,545.17 441.70,549.92 442.10,557.11 442.50,553.03 442.90,553.70 443.30,541.56 443.70,548.77 444.10,548.97 444.50,564.06 444.90,541.35 445.30,558.00 445.70,550.39 446.10,545.83 446.50,557.37 446.90,561.31 447.30,555.30 447.70,548.29 448.10,551.07 448.50,548.25 448.90,549.16 449.30,544.95 449.70,544.41 450.10,563.40 450.50,552.71 450.90,566.82 451.30,564.80 451.70,540.68 452.10,566.58 452.50,557.45 452.90,551.65 453.30,552.55 453.70,559.68 454.10,548.29 454.50,564.90 454.90,547.21 455.30,555.33 455.70,546.94 456.10,544.76 456.50,555.52 456.90,545.39 457.30,551.19 457.70,553.72 458.10,560.51 458.50,548.59 458.90,559.59 459.30,562.56 459.70,545.98 460.10,550.35 460.50,551.94 460.90,545.42 461.30,553.10 461.70,546.92 462.10,553.56 462.50,557.77 462.90,553.34 463.30,551.04 463.70,549.40 464.10,545.18 464.50,535.10 464.90,546.27 465.30,541.63 465.70,538.80 466.10,530.20 466.50,536.05 466.90,544.38 467.30,544.82 467.70,545.83 468.10,539.14 468.50,541.50 468.90,543.40 469.30,535.73 469.70,530.82 470.10,519.52 470.50,533.76 470.90,531.44 471.30,537.49 471.60,533.61 471.60,513.80 471.90,513.80 471.90,533.61 472.10,528.67 472.50,530.38 472.90,529.46 473.30,523.51 473.70,527.26 474.10,524.01 474.50,532.49 474.90,521.41 475.30,521.23 475.70,529.64 476.10,524.02 476.50,529.28 476.90,519.63 477.30,520.63 477.70,529.41 478.10,536.41 478.50,525.51 478.90,526.97 479.30,529.02 479.70,530.10 480.10,530.21 480.50,531.61" fill="none" stroke="#000" stroke-width="0.5" stroke-linejoin="miter" stroke-opacity="1"/>
<line x1="342.8" y1="590.6" x2="481" y2="536.9" stroke="#E8641C" stroke-width="3.2" stroke-linecap="round"/>
<text transform="translate(375.00,463.00) scale(0.83,1)" font-size="8.2" text-anchor="start" font-weight="bold" fill="#000">CDKN2A</text>
<text transform="translate(421.00,521.60) scale(0.83,1)" font-size="8.2" text-anchor="start" font-weight="bold" fill="#000">R² = 0.6273</text>
<path d="M585.50,457.00 V617.90 H769.90" fill="none" stroke="#858585" stroke-width="1.05"/>
<text transform="translate(577.90,621.05) scale(0.83,1)" font-size="10.0" text-anchor="end" fill="#000">0</text>
<text transform="translate(577.90,540.60) scale(0.83,1)" font-size="10.0" text-anchor="end" fill="#000">0.005</text>
<text transform="translate(577.90,460.15) scale(0.83,1)" font-size="10.0" text-anchor="end" fill="#000">0.01</text>
<text transform="translate(585.50,632.60) scale(0.83,1)" font-size="10.0" text-anchor="middle" fill="#000">1.5</text>
<text transform="translate(616.23,632.60) scale(0.83,1)" font-size="10.0" text-anchor="middle" fill="#000">1</text>
<text transform="translate(646.97,632.60) scale(0.83,1)" font-size="10.0" text-anchor="middle" fill="#000">0.5</text>
<text transform="translate(677.70,632.60) scale(0.83,1)" font-size="10.0" text-anchor="middle" fill="#000">0</text>
<text transform="translate(708.43,632.60) scale(0.83,1)" font-size="10.0" text-anchor="middle" fill="#000">-0.5</text>
<text transform="translate(739.17,632.60) scale(0.83,1)" font-size="10.0" text-anchor="middle" fill="#000">-1</text>
<text transform="translate(769.90,632.60) scale(0.83,1)" font-size="10.0" text-anchor="middle" fill="#000">-1.5</text>
<path d="M583.00,617.90 H585.50 M583.00,537.45 H585.50 M583.00,457.00 H585.50 M585.50,617.90 V621.20 M616.23,617.90 V621.20 M646.97,617.90 V621.20 M677.70,617.90 V621.20 M708.43,617.90 V621.20 M739.17,617.90 V621.20 M769.90,617.90 V621.20" fill="none" stroke="#858585" stroke-width="1.05"/>
<text transform="translate(546.00,545.00) scale(0.84,1) rotate(-90)" font-size="10.2" text-anchor="middle" fill="#000">Density of frameshift mutations</text>
<text transform="translate(674.90,653.80) scale(0.85,1)" font-size="10.0" text-anchor="middle" fill="#000">Replication time</text>
<polyline points="603.00,565.50 603.20,552.88 603.40,578.36 603.60,565.69 603.80,565.70 604.00,564.89 604.20,564.16 604.40,590.90 604.60,585.21 604.80,573.57 605.00,576.34 605.20,555.27 605.40,567.44 605.60,572.06 605.80,586.93 606.00,567.14 606.20,569.74 606.40,586.94 606.60,580.32 606.80,568.06 607.00,587.33 607.20,573.28 607.40,585.33 607.60,576.32 607.80,561.30 608.00,566.57 608.20,573.19 608.40,571.73 608.60,574.72 608.80,586.32 609.00,577.64 609.30,562.53 609.30,548.70 609.60,548.70 609.60,562.53 609.40,577.58 609.60,571.19 609.80,574.31 610.00,553.67 610.20,575.92 610.40,583.20 610.60,566.70 610.80,567.79 611.00,572.37 611.20,592.44 611.40,581.99 611.60,574.70 611.80,574.12 612.00,555.50 612.20,573.34 612.40,586.36 612.60,566.27 612.80,552.73 613.00,574.08 613.20,568.84 613.40,557.88 613.60,576.70 613.80,571.58 614.00,590.10 614.00,540.00 614.30,540.00 614.30,590.10 614.20,574.05 614.40,589.80 614.60,575.67 614.80,568.78 615.00,564.56 615.20,566.43 615.40,557.56 615.60,577.44 615.80,569.58 616.00,589.87 616.20,570.50 616.40,560.61 616.60,572.27 616.80,567.38 617.00,575.95 617.20,585.48 617.40,578.94 617.60,562.20 617.80,581.52 618.00,564.36 618.20,574.10 618.40,572.94 618.60,576.66 618.80,577.32 619.00,566.31 619.30,567.56 619.30,516.20 619.60,516.20 619.60,567.56 619.40,565.45 619.60,558.62 619.80,575.23 620.00,578.76 620.20,578.83 620.40,572.97 620.60,574.03 620.80,574.42 621.00,566.79 621.20,579.22 621.40,567.10 621.60,562.74 621.80,579.74 622.00,574.95 622.20,585.65 622.40,564.82 622.60,579.73 622.80,588.96 623.00,567.35 623.20,574.39 623.40,569.98 623.60,563.53 623.70,568.44 623.70,531.50 624.00,531.50 624.00,568.44 624.00,579.70 624.20,570.56 624.40,564.21 624.60,585.79 624.80,578.14 625.00,564.07 625.20,571.78 625.40,575.74 625.60,569.74 625.80,560.98 626.00,552.92 626.20,571.41 626.40,552.00 626.60,568.43 626.80,566.92 627.00,561.51 627.20,568.52 627.40,572.98 627.60,569.54 627.80,578.80 628.00,579.98 628.00,542.00 628.30,542.00 628.30,579.98 628.20,588.24 628.40,578.38 628.60,566.92 628.80,566.83 629.00,559.38 629.20,573.01 629.40,573.93 629.60,568.23 629.80,572.59 630.00,568.94 630.20,565.41 630.40,571.63 630.60,564.91 630.80,574.17 631.00,572.50 631.20,576.44 631.40,574.33 631.60,573.27 631.80,574.75 632.00,558.96 632.20,561.20 632.40,586.29 632.60,563.95 632.80,559.16 633.00,567.71 633.20,578.17 633.40,577.42 633.60,592.43 633.80,568.01 634.00,566.42 634.20,575.68 634.20,539.20 634.50,539.20 634.50,575.68 634.40,587.12 634.60,567.59 634.80,587.04 635.00,578.50 635.20,582.22 635.40,574.79 635.60,570.87 635.80,586.84 636.00,560.16 636.20,561.15 636.40,576.83 636.60,568.35 636.80,569.40 637.00,558.03 637.20,570.03 637.40,562.96 637.60,565.66 637.80,561.26 638.00,552.00 638.20,561.45 638.40,560.04 638.60,568.19 638.80,582.14 639.00,574.94 639.20,571.09 639.40,565.83 639.60,568.11 639.80,579.71 640.00,575.69 640.40,564.08 641.31,547.91 642.21,566.09 643.12,548.84 644.03,560.43 644.93,572.97 645.84,569.31 646.74,557.37 647.65,573.41 648.56,555.73 649.46,562.69 650.37,561.82 651.28,566.91 652.18,567.39 653.09,575.66 653.99,557.23 655.20,558.13 655.20,527.70 655.50,527.70 655.50,558.13 655.81,549.16 656.71,568.81 657.62,561.01 658.53,550.50 659.00,567.66 659.00,542.00 659.30,542.00 659.30,567.66 660.34,571.49 661.25,566.69 662.15,564.71 663.06,564.50 663.96,558.10 664.87,546.00 665.78,566.59 666.70,561.94 666.70,549.70 667.00,549.70 667.00,561.94 667.59,564.53 668.50,569.74 669.40,562.62 670.31,577.66 671.21,550.05 672.12,583.39 673.03,562.48 673.93,577.97 674.84,560.12 675.75,546.00 676.65,574.06 677.56,578.31 678.46,560.51 679.37,574.83 680.28,553.06 681.18,574.57 682.09,555.06 683.00,565.20 683.90,556.88 684.80,563.56 684.80,551.60 685.10,551.60 685.10,563.56 685.72,559.21 686.62,566.43 687.53,575.94 688.43,552.46 689.34,566.39 690.25,565.09 691.15,547.91 692.06,562.06 692.97,561.45 693.87,570.29 694.78,558.47 695.68,566.31 696.59,558.81 697.50,563.43 698.40,555.30 699.10,564.71 699.10,544.00 699.40,544.00 699.40,564.71 700.22,564.93 701.12,574.44 702.03,570.40 702.94,561.79 703.84,564.96 704.75,581.54 705.65,556.45 706.56,554.99 707.47,581.27 708.37,564.71 709.28,559.07 710.19,564.08 711.09,568.64 712.00,549.28 712.00,543.00 712.30,543.00 712.30,549.28 712.90,575.12 713.81,556.14 714.72,566.17 715.62,555.01 716.53,573.91 717.44,559.70 718.34,569.44 719.25,565.58 720.15,576.37 721.06,565.68 721.97,558.45 722.87,570.55 723.78,560.51 724.69,558.07 725.59,566.58 726.50,566.71 727.41,569.52 728.31,570.03 729.22,562.89 730.12,553.90 731.30,554.93 731.30,545.90 731.60,545.90 731.60,554.93 731.94,552.69 732.84,566.73 733.75,558.70 734.66,567.84 735.56,578.53 736.47,564.00 737.37,560.88 738.28,559.47 739.19,565.38 740.09,563.57 741.00,557.22" fill="none" stroke="#000" stroke-width="0.5" stroke-linejoin="miter" stroke-opacity="1"/>
<line x1="602.3" y1="571.1" x2="741.8" y2="563.4" stroke="#E8641C" stroke-width="3.2" stroke-linecap="round"/>
<text transform="translate(699.00,526.00) scale(0.83,1)" font-size="8.2" text-anchor="start" font-weight="bold" fill="#000">R² = 0.0375</text>
<text transform="translate(7.20,18.60) scale(0.8,1)" font-size="17" text-anchor="start" font-weight="bold" fill="#000">a</text>
<text transform="translate(9.70,245.30) scale(0.8,1)" font-size="17" text-anchor="start" font-weight="bold" fill="#000">b</text>
<text transform="translate(9.70,466.90) scale(0.8,1)" font-size="17" text-anchor="start" font-weight="bold" fill="#000">c</text>
</svg>
</body></html>
